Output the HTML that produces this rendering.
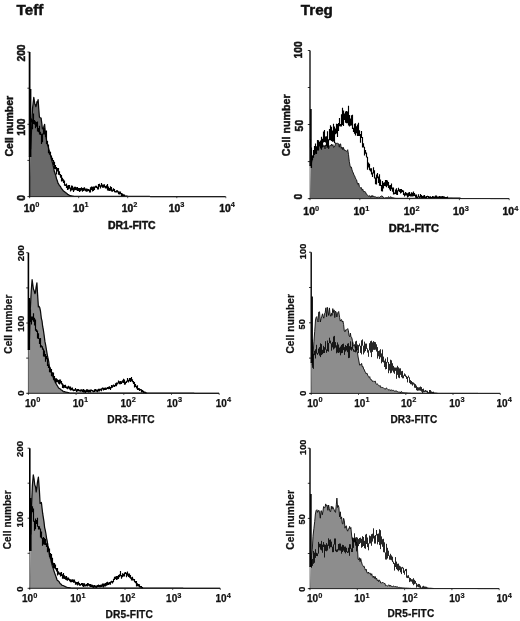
<!DOCTYPE html>
<html lang="en">
<head>
<meta charset="utf-8">
<title>Teff / Treg DR expression histograms</title>
<style>
html,body{margin:0;padding:0;background:#fff;}
body{width:520px;height:621px;overflow:hidden;}
svg{display:block;filter:blur(0.45px);}
</style>
</head>
<body>
<svg width="520" height="621" viewBox="0 0 520 621" font-family='"Liberation Sans", Arial, Helvetica, sans-serif' font-weight="bold" fill="#111" stroke="#111" stroke-width="0.45">
<rect width="520" height="621" fill="#fff" stroke="none"/>
<text x="16.60" y="14.60" font-size="15.2" text-anchor="start">Teff</text>
<text x="300.80" y="14.60" font-size="15.2" text-anchor="start">Treg</text>
<path d="M29.6 196.6 L30.6 149.2 L31.5 130.6 L32.5 108.9 L33.1 103.4 L33.8 97.3 L34.8 103.9 L35.3 104.8 L35.9 106.7 L36.5 104.5 L37.0 101.7 L37.5 102.3 L38.1 99.6 L38.8 109.2 L39.4 117.0 L40.2 117.7 L41.1 118.1 L41.8 123.3 L42.4 128.9 L43.0 128.2 L43.5 127.3 L44.0 126.2 L44.6 124.4 L45.4 133.4 L46.2 138.4 L46.9 141.6 L47.5 144.5 L48.2 146.7 L48.8 149.1 L49.5 151.5 L50.2 153.5 L50.9 157.2 L51.6 159.8 L52.2 161.8 L52.9 164.6 L53.6 167.5 L54.3 171.3 L55.0 173.2 L55.8 175.6 L56.5 178.6 L57.3 180.8 L58.0 183.1 L58.7 184.2 L59.4 185.4 L60.1 186.1 L60.8 187.2 L61.4 188.5 L62.1 189.2 L62.8 190.1 L63.5 191.2 L64.2 191.3 L64.9 192.1 L65.5 192.6 L66.2 192.9 L66.9 193.4 L67.6 194.4 L68.2 194.6 L68.9 194.9 L69.6 195.7 L70.3 195.7 L71.1 195.8 L71.8 195.9 L72.5 196.1 L73.3 196.2 L74.0 196.3 L74.7 196.3 L75.4 196.3 L76.1 196.3 L76.8 196.3 L77.5 196.3 L78.2 196.3 L78.9 196.3 L79.6 196.3 L80.3 196.3 L81.0 196.3 L81.7 196.3 L82.4 196.3 L83.1 196.3 L83.8 196.3 L84.5 196.3 L85.2 196.3 L85.9 196.3 L86.6 196.3 L87.3 196.3 L88.0 196.3 L88.7 196.3 L89.4 196.3 L90.1 196.3 L90.8 196.3 L91.5 196.3 L92.2 196.3 L92.9 196.3 L93.6 196.3 L94.3 196.3 L95.0 196.3 L95.7 196.3 L96.4 196.3 L97.1 196.3 L97.8 196.3 L98.5 196.3 L99.2 196.4 L99.9 196.4 L100.6 196.4 L101.3 196.4 L102.0 196.4 L102.7 196.4 L103.4 196.4 L104.1 196.4 L104.8 196.4 L105.5 196.4 L106.2 196.4 L106.9 196.4 L107.6 196.4 L108.3 196.4 L109.0 196.4 L109.7 196.4 L110.4 196.4 L111.1 196.4 L111.8 196.4 L112.4 196.4 L113.1 196.4 L113.8 196.4 L114.5 196.4 L115.2 196.4 L115.9 196.4 L116.6 196.4 L117.3 196.4 L118.0 196.4 L118.7 196.4 L119.4 196.4 L120.1 196.4 L120.8 196.4 L121.5 196.4 L122.2 196.4 L122.9 196.4 L123.6 196.4 L124.3 196.4 L125.0 196.4 L125.7 196.4 L126.4 196.4 L127.1 196.4 L127.8 196.4 L128.5 196.4 L129.2 196.4 L129.9 196.4 L130.6 196.4 L131.3 196.4 L132.0 196.4 L132.7 196.4 L133.4 196.4 L134.1 196.4 L134.8 196.4 L135.5 196.4 L136.2 196.4 L136.9 196.4 L137.6 196.4 L138.3 196.4 L139.0 196.4 L139.7 196.4 L140.4 196.4 L141.1 196.4 L141.8 196.4 L142.5 196.4 L143.2 196.4 L143.9 196.4 L144.6 196.4 L145.3 196.4 L146.0 196.4 L146.7 196.4 L147.4 196.4 L148.1 196.4 L148.8 196.4 L149.5 196.4 L150.2 196.5 L150.9 196.5 L151.6 196.5 L152.3 196.5 L153.0 196.5 L153.7 196.5 L154.4 196.5 L155.1 196.5 L155.8 196.5 L156.5 196.5 L157.2 196.5 L157.9 196.5 L158.6 196.5 L159.3 196.5 L160.0 196.5 L160.7 196.5 L161.4 196.5 L162.1 196.5 L162.8 196.5 L163.5 196.5 L164.2 196.5 L164.9 196.5 L165.6 196.5 L166.3 196.5 L167.0 196.5 L167.7 196.5 L168.4 196.5 L169.1 196.5 L169.8 196.5 L170.5 196.5 L171.2 196.5 L171.9 196.5 L172.6 196.5 L173.3 196.5 L174.0 196.5 L174.7 196.5 L175.4 196.5 L176.1 196.5 L176.8 196.5 L177.5 196.5 L178.2 196.5 L178.9 196.5 L179.6 196.5 L180.3 196.5 L181.0 196.5 L181.7 196.5 L182.4 196.5 L183.1 196.5 L183.8 196.5 L184.5 196.5 L185.2 196.5 L185.9 196.5 L186.6 196.5 L187.2 196.5 L187.9 196.5 L188.6 196.5 L189.3 196.5 L190.0 196.5 L190.7 196.5 L191.4 196.5 L192.1 196.5 L192.8 196.5 L193.5 196.5 L194.2 196.5 L194.9 196.5 L195.6 196.5 L196.3 196.5 L197.0 196.5 L197.7 196.5 L198.4 196.5 L199.1 196.5 L199.8 196.6 L200.5 196.6 L201.2 196.6 L201.9 196.6 L202.6 196.6 L203.3 196.6 L204.0 196.6 L204.7 196.6 L205.4 196.6 L206.1 196.6 L206.8 196.6 L207.5 196.6 L208.2 196.6 L208.9 196.6 L209.6 196.6 L210.3 196.6 L211.0 196.6 L211.7 196.6 L212.4 196.6 L213.1 196.6 L213.8 196.6 L214.5 196.6 L215.2 196.6 L215.9 196.6 L216.6 196.6 L217.3 196.6 L218.0 196.6 L218.7 196.6 L219.4 196.6 L220.1 196.6 L220.8 196.6 L221.5 196.6 L222.2 196.6 L222.9 196.6 L223.6 196.6 L224.3 196.6 L225.0 196.6 Z" fill="#6a6a6a" stroke="none"/>
<path d="M30.6 149.2 L31.5 130.6 L32.5 108.9 L33.1 103.4 L33.8 97.3 L34.8 103.9 L35.3 104.8 L35.9 106.7 L36.5 104.5 L37.0 101.7 L37.5 102.3 L38.1 99.6 L38.8 109.2 L39.4 117.0 L40.2 117.7 L41.1 118.1 L41.8 123.3 L42.4 128.9 L43.0 128.2 L43.5 127.3 L44.0 126.2 L44.6 124.4 L45.4 133.4 L46.2 138.4 L46.9 141.6 L47.5 144.5 L48.2 146.7 L48.8 149.1 L49.5 151.5 L50.2 153.5 L50.9 157.2 L51.6 159.8 L52.2 161.8 L52.9 164.6 L53.6 167.5 L54.3 171.3 L55.0 173.2 L55.8 175.6 L56.5 178.6 L57.3 180.8 L58.0 183.1 L58.7 184.2 L59.4 185.4 L60.1 186.1 L60.8 187.2 L61.4 188.5 L62.1 189.2 L62.8 190.1 L63.5 191.2 L64.2 191.3 L64.9 192.1 L65.5 192.6 L66.2 192.9 L66.9 193.4 L67.6 194.4 L68.2 194.6 L68.9 194.9 L69.6 195.7 L70.3 195.7 L71.1 195.8 L71.8 195.9 L72.5 196.1 L73.3 196.2 L74.0 196.3 L74.7 196.3 L75.4 196.3 L76.1 196.3 L76.8 196.3 L77.5 196.3 L78.2 196.3 L78.9 196.3 L79.6 196.3 L80.3 196.3 L81.0 196.3 L81.7 196.3 L82.4 196.3 L83.1 196.3 L83.8 196.3 L84.5 196.3 L85.2 196.3 L85.9 196.3 L86.6 196.3 L87.3 196.3 L88.0 196.3 L88.7 196.3 L89.4 196.3 L90.1 196.3 L90.8 196.3 L91.5 196.3 L92.2 196.3 L92.9 196.3 L93.6 196.3 L94.3 196.3 L95.0 196.3 L95.7 196.3 L96.4 196.3 L97.1 196.3 L97.8 196.3 L98.5 196.3 L99.2 196.4 L99.9 196.4 L100.6 196.4 L101.3 196.4 L102.0 196.4 L102.7 196.4 L103.4 196.4 L104.1 196.4 L104.8 196.4 L105.5 196.4 L106.2 196.4 L106.9 196.4 L107.6 196.4 L108.3 196.4 L109.0 196.4 L109.7 196.4 L110.4 196.4 L111.1 196.4 L111.8 196.4 L112.4 196.4 L113.1 196.4 L113.8 196.4 L114.5 196.4 L115.2 196.4 L115.9 196.4 L116.6 196.4 L117.3 196.4 L118.0 196.4 L118.7 196.4 L119.4 196.4 L120.1 196.4 L120.8 196.4 L121.5 196.4 L122.2 196.4 L122.9 196.4 L123.6 196.4 L124.3 196.4 L125.0 196.4 L125.7 196.4 L126.4 196.4 L127.1 196.4 L127.8 196.4 L128.5 196.4 L129.2 196.4 L129.9 196.4 L130.6 196.4 L131.3 196.4 L132.0 196.4 L132.7 196.4 L133.4 196.4 L134.1 196.4 L134.8 196.4 L135.5 196.4 L136.2 196.4 L136.9 196.4 L137.6 196.4 L138.3 196.4 L139.0 196.4 L139.7 196.4 L140.4 196.4 L141.1 196.4 L141.8 196.4 L142.5 196.4 L143.2 196.4 L143.9 196.4 L144.6 196.4 L145.3 196.4 L146.0 196.4 L146.7 196.4 L147.4 196.4 L148.1 196.4 L148.8 196.4 L149.5 196.4 L150.2 196.5 L150.9 196.5 L151.6 196.5 L152.3 196.5 L153.0 196.5 L153.7 196.5 L154.4 196.5 L155.1 196.5 L155.8 196.5 L156.5 196.5 L157.2 196.5 L157.9 196.5 L158.6 196.5 L159.3 196.5 L160.0 196.5 L160.7 196.5 L161.4 196.5 L162.1 196.5 L162.8 196.5 L163.5 196.5 L164.2 196.5 L164.9 196.5 L165.6 196.5 L166.3 196.5 L167.0 196.5 L167.7 196.5 L168.4 196.5 L169.1 196.5 L169.8 196.5 L170.5 196.5 L171.2 196.5 L171.9 196.5 L172.6 196.5 L173.3 196.5 L174.0 196.5 L174.7 196.5 L175.4 196.5 L176.1 196.5 L176.8 196.5 L177.5 196.5 L178.2 196.5 L178.9 196.5 L179.6 196.5 L180.3 196.5 L181.0 196.5 L181.7 196.5 L182.4 196.5 L183.1 196.5 L183.8 196.5 L184.5 196.5 L185.2 196.5 L185.9 196.5 L186.6 196.5 L187.2 196.5 L187.9 196.5 L188.6 196.5 L189.3 196.5 L190.0 196.5 L190.7 196.5 L191.4 196.5 L192.1 196.5 L192.8 196.5 L193.5 196.5 L194.2 196.5 L194.9 196.5 L195.6 196.5 L196.3 196.5 L197.0 196.5 L197.7 196.5 L198.4 196.5 L199.1 196.5 L199.8 196.6 L200.5 196.6 L201.2 196.6 L201.9 196.6 L202.6 196.6 L203.3 196.6 L204.0 196.6 L204.7 196.6 L205.4 196.6 L206.1 196.6 L206.8 196.6 L207.5 196.6 L208.2 196.6 L208.9 196.6 L209.6 196.6 L210.3 196.6 L211.0 196.6 L211.7 196.6 L212.4 196.6 L213.1 196.6 L213.8 196.6 L214.5 196.6 L215.2 196.6 L215.9 196.6 L216.6 196.6 L217.3 196.6 L218.0 196.6 L218.7 196.6 L219.4 196.6 L220.1 196.6 L220.8 196.6 L221.5 196.6 L222.2 196.6 L222.9 196.6 L223.6 196.6 L224.3 196.6 L225.0 196.6" fill="none" stroke="#0a0a0a" stroke-width="1.25" stroke-linejoin="round"/>
<path d="M30.5 114.2V119.5M31.5 118.5V122.6M32.5 119.6V129.3M33.5 113.5V124.0M34.5 120.1V124.6M35.5 121.2V128.2M36.5 122.0V126.7M37.5 121.5V131.4M38.5 128.0V132.3M39.5 125.7V134.6M40.5 131.8V135.0M41.5 133.7V143.9M42.5 133.5V142.2M43.5 128.0V134.5M44.5 127.7V134.6M45.5 130.8V136.9M46.5 130.6V144.0M47.5 141.1V145.5M48.5 144.4V153.3M49.5 152.1V154.8M50.5 151.7V156.6M51.5 155.5V159.8M52.5 157.8V161.0M53.5 159.9V165.2M54.5 161.7V169.0M55.5 164.9V169.3M56.5 167.1V174.5M57.5 167.9V171.4M58.5 168.1V174.8M59.5 171.3V175.2M60.5 174.0V177.7M61.5 174.9V181.4M62.5 177.8V181.2M63.5 179.3V183.0M64.5 180.6V185.8M65.5 184.3V186.0M66.5 183.4V188.0M67.5 185.6V190.1M68.5 185.0V189.4M69.5 185.0V188.8M70.5 187.5V191.5M71.5 185.6V190.6M72.5 185.8V190.2M73.5 187.5V192.1M74.5 186.7V190.4M75.5 186.8V189.9M76.5 187.3V190.3M77.5 187.1V191.0M78.5 187.9V191.0M79.5 188.0V192.0M80.5 187.9V191.2M81.5 187.3V190.5M82.5 188.1V191.7M83.5 187.7V191.0M84.5 187.2V190.5M85.5 188.5V191.3M86.5 188.5V191.7M87.5 188.8V191.6M88.5 189.1V191.0M89.5 189.4V192.5M90.5 187.3V192.4M91.5 186.5V190.1M92.5 186.7V191.6M93.5 186.5V191.1M94.5 186.4V190.0M95.5 185.7V187.8M96.5 185.7V188.1M97.5 186.8V189.6M98.5 184.1V189.6M99.5 183.8V186.8M100.5 185.3V188.6M101.5 183.1V186.8M102.5 184.6V187.8M103.5 184.5V187.8M104.5 184.2V187.4M105.5 186.1V188.6M106.5 185.2V188.5M107.5 184.1V190.4M108.5 186.5V190.7M109.5 187.9V191.1M110.5 186.2V190.7M111.5 186.9V191.4M112.5 189.6V191.7M113.5 188.3V190.9M114.5 188.9V192.3M115.5 190.9V192.5M116.5 190.3V192.6M117.5 190.3V192.6M118.5 191.3V194.2M119.5 191.6V194.4M120.5 191.5V194.3M121.5 193.0V195.9M122.5 193.5V196.2M123.5 194.2V196.4M124.5 194.5V196.8M125.5 195.4V197.0M126.5 195.6V197.0M127.5 195.8V197.0" fill="none" stroke="#000" stroke-width="1.15"/>
<line x1="29.6" y1="156.5" x2="29.6" y2="197.1" stroke="#1a1a1a" stroke-width="1.50"/>
<line x1="29.6" y1="52.0" x2="29.6" y2="157.0" stroke="#000" stroke-width="1.80"/>
<line x1="30.5" y1="89.0" x2="30.5" y2="157.0" stroke="#000" stroke-width="1.80"/>
<line x1="28.8" y1="196.6" x2="225.8" y2="196.6" stroke="#222" stroke-width="1"/>
<line x1="27.4" y1="196.6" x2="29.6" y2="196.6" stroke="#000" stroke-width="0.8"/>
<line x1="27.4" y1="160.4" x2="29.6" y2="160.4" stroke="#000" stroke-width="0.8"/>
<line x1="27.4" y1="124.3" x2="29.6" y2="124.3" stroke="#000" stroke-width="0.8"/>
<line x1="27.4" y1="88.2" x2="29.6" y2="88.2" stroke="#000" stroke-width="0.8"/>
<line x1="27.4" y1="52.0" x2="29.6" y2="52.0" stroke="#000" stroke-width="0.8"/>
<line x1="29.6" y1="196.6" x2="29.6" y2="198.2" stroke="#222" stroke-width="0.8"/>
<line x1="78.7" y1="196.6" x2="78.7" y2="198.2" stroke="#222" stroke-width="0.8"/>
<line x1="127.7" y1="196.6" x2="127.7" y2="198.2" stroke="#222" stroke-width="0.8"/>
<line x1="176.8" y1="196.6" x2="176.8" y2="198.2" stroke="#222" stroke-width="0.8"/>
<line x1="225.8" y1="196.6" x2="225.8" y2="198.2" stroke="#222" stroke-width="0.8"/>
<g stroke-width="0.45">
<text x="23.78" y="211.60" font-size="10.3">10<tspan dy="-4.5" dx="0.1" font-size="7.4" stroke-width="0.15">0</tspan></text>
<text x="72.98" y="211.60" font-size="10.3">10<tspan dy="-4.5" dx="0.1" font-size="7.4" stroke-width="0.15">1</tspan></text>
<text x="121.78" y="211.60" font-size="10.3">10<tspan dy="-4.5" dx="0.1" font-size="7.4" stroke-width="0.15">2</tspan></text>
<text x="168.68" y="211.60" font-size="10.3">10<tspan dy="-4.5" dx="0.1" font-size="7.4" stroke-width="0.15">3</tspan></text>
<text x="219.18" y="211.60" font-size="10.3">10<tspan dy="-4.5" dx="0.1" font-size="7.4" stroke-width="0.15">4</tspan></text>
<text x="131.80" y="228.50" font-size="10.5" text-anchor="middle">DR1-FITC</text>
<text x="24.70" y="198.00" font-size="10.3" text-anchor="middle" transform="rotate(-90 24.70 198.00)">0</text>
<text x="24.60" y="127.10" font-size="10.3" text-anchor="middle" transform="rotate(-90 24.60 127.10)">100</text>
<text x="24.80" y="53.00" font-size="10.3" text-anchor="middle" transform="rotate(-90 24.80 53.00)">200</text>
<text x="13.30" y="126.20" font-size="10.5" text-anchor="middle" transform="rotate(-90 13.30 126.20)">Cell number</text>
</g>
<path d="M28.4 393.3 L29.4 339.6 L30.3 309.3 L31.2 291.2 L32.1 279.7 L32.8 284.6 L33.4 289.1 L34.1 290.5 L34.9 293.6 L35.5 292.4 L36.0 287.8 L36.9 282.9 L37.6 294.6 L38.4 306.9 L39.0 306.3 L39.7 307.5 L40.5 311.2 L41.4 318.7 L42.0 320.8 L42.7 326.7 L43.3 329.5 L44.1 335.2 L44.9 341.4 L45.7 345.4 L46.4 349.5 L47.2 354.3 L47.9 357.8 L48.7 361.4 L49.4 366.6 L50.1 367.6 L50.7 369.5 L51.4 371.8 L52.0 374.1 L52.7 376.2 L53.3 377.6 L54.0 379.9 L54.7 380.7 L55.3 382.2 L56.0 383.5 L56.6 384.6 L57.3 385.8 L57.9 386.8 L58.6 388.0 L59.3 388.4 L59.9 388.8 L60.6 389.1 L61.2 390.0 L61.9 390.3 L62.5 390.7 L63.2 391.5 L63.9 391.9 L64.6 391.6 L65.2 392.0 L65.9 392.0 L66.6 392.3 L67.3 392.4 L68.0 392.6 L68.6 392.7 L69.3 392.9 L70.0 393.0 L70.7 393.0 L71.4 393.0 L72.1 393.0 L72.8 393.0 L73.5 393.0 L74.2 393.0 L74.9 393.0 L75.6 393.0 L76.3 393.0 L77.0 393.0 L77.7 393.0 L78.4 393.0 L79.1 393.0 L79.8 393.0 L80.5 393.0 L81.2 393.0 L81.9 393.0 L82.6 393.0 L83.3 393.0 L84.0 393.0 L84.7 393.0 L85.4 393.0 L86.1 393.0 L86.8 393.0 L87.5 393.0 L88.2 393.0 L88.9 393.0 L89.6 393.0 L90.3 393.0 L91.0 393.0 L91.7 393.0 L92.4 393.0 L93.1 393.0 L93.8 393.0 L94.5 393.0 L95.2 393.1 L95.9 393.1 L96.6 393.1 L97.3 393.1 L98.0 393.1 L98.7 393.1 L99.4 393.1 L100.1 393.1 L100.8 393.1 L101.5 393.1 L102.2 393.1 L102.9 393.1 L103.6 393.1 L104.3 393.1 L105.0 393.1 L105.7 393.1 L106.4 393.1 L107.1 393.1 L107.8 393.1 L108.5 393.1 L109.2 393.1 L109.9 393.1 L110.6 393.1 L111.3 393.1 L112.0 393.1 L112.7 393.1 L113.4 393.1 L114.1 393.1 L114.8 393.1 L115.5 393.1 L116.2 393.1 L116.9 393.1 L117.6 393.1 L118.3 393.1 L119.0 393.1 L119.7 393.1 L120.4 393.1 L121.1 393.1 L121.8 393.1 L122.5 393.1 L123.2 393.1 L123.9 393.1 L124.6 393.1 L125.3 393.1 L126.0 393.1 L126.7 393.1 L127.4 393.1 L128.1 393.1 L128.8 393.1 L129.5 393.1 L130.2 393.1 L130.9 393.1 L131.6 393.1 L132.3 393.1 L133.0 393.1 L133.7 393.1 L134.4 393.1 L135.1 393.1 L135.8 393.1 L136.5 393.1 L137.2 393.1 L137.9 393.1 L138.6 393.1 L139.3 393.1 L140.0 393.1 L140.7 393.1 L141.4 393.1 L142.1 393.1 L142.8 393.1 L143.5 393.1 L144.2 393.1 L144.8 393.2 L145.5 393.2 L146.2 393.2 L146.9 393.2 L147.6 393.2 L148.3 393.2 L149.0 393.2 L149.7 393.2 L150.4 393.2 L151.1 393.2 L151.8 393.2 L152.5 393.2 L153.2 393.2 L153.9 393.2 L154.6 393.2 L155.3 393.2 L156.0 393.2 L156.7 393.2 L157.4 393.2 L158.1 393.2 L158.8 393.2 L159.5 393.2 L160.2 393.2 L160.9 393.2 L161.6 393.2 L162.3 393.2 L163.0 393.2 L163.7 393.2 L164.4 393.2 L165.1 393.2 L165.8 393.2 L166.5 393.2 L167.2 393.2 L167.9 393.2 L168.6 393.2 L169.3 393.2 L170.0 393.2 L170.7 393.2 L171.4 393.2 L172.1 393.2 L172.8 393.2 L173.5 393.2 L174.2 393.2 L174.9 393.2 L175.6 393.2 L176.3 393.2 L177.0 393.2 L177.7 393.2 L178.4 393.2 L179.1 393.2 L179.8 393.2 L180.5 393.2 L181.2 393.2 L181.9 393.2 L182.6 393.2 L183.3 393.2 L184.0 393.2 L184.7 393.2 L185.4 393.2 L186.1 393.2 L186.8 393.2 L187.5 393.2 L188.2 393.2 L188.9 393.2 L189.6 393.2 L190.3 393.2 L191.0 393.2 L191.7 393.2 L192.4 393.2 L193.1 393.2 L193.8 393.2 L194.5 393.3 L195.2 393.3 L195.9 393.3 L196.6 393.3 L197.3 393.3 L198.0 393.3 L198.7 393.3 L199.4 393.3 L200.1 393.3 L200.8 393.3 L201.5 393.3 L202.2 393.3 L202.9 393.3 L203.6 393.3 L204.3 393.3 L205.0 393.3 L205.7 393.3 L206.4 393.3 L207.1 393.3 L207.8 393.3 L208.5 393.3 L209.2 393.3 L209.9 393.3 L210.6 393.3 L211.3 393.3 L212.0 393.3 L212.7 393.3 L213.4 393.3 L214.1 393.3 L214.8 393.3 L215.5 393.3 L216.2 393.3 L216.9 393.3 L217.6 393.3 L218.3 393.3 L219.0 393.3 Z" fill="#8d8d8d" stroke="none"/>
<path d="M29.4 339.6 L30.3 309.3 L31.2 291.2 L32.1 279.7 L32.8 284.6 L33.4 289.1 L34.1 290.5 L34.9 293.6 L35.5 292.4 L36.0 287.8 L36.9 282.9 L37.6 294.6 L38.4 306.9 L39.0 306.3 L39.7 307.5 L40.5 311.2 L41.4 318.7 L42.0 320.8 L42.7 326.7 L43.3 329.5 L44.1 335.2 L44.9 341.4 L45.7 345.4 L46.4 349.5 L47.2 354.3 L47.9 357.8 L48.7 361.4 L49.4 366.6 L50.1 367.6 L50.7 369.5 L51.4 371.8 L52.0 374.1 L52.7 376.2 L53.3 377.6 L54.0 379.9 L54.7 380.7 L55.3 382.2 L56.0 383.5 L56.6 384.6 L57.3 385.8 L57.9 386.8 L58.6 388.0 L59.3 388.4 L59.9 388.8 L60.6 389.1 L61.2 390.0 L61.9 390.3 L62.5 390.7 L63.2 391.5 L63.9 391.9 L64.6 391.6 L65.2 392.0 L65.9 392.0 L66.6 392.3 L67.3 392.4 L68.0 392.6 L68.6 392.7 L69.3 392.9 L70.0 393.0 L70.7 393.0 L71.4 393.0 L72.1 393.0 L72.8 393.0 L73.5 393.0 L74.2 393.0 L74.9 393.0 L75.6 393.0 L76.3 393.0 L77.0 393.0 L77.7 393.0 L78.4 393.0 L79.1 393.0 L79.8 393.0 L80.5 393.0 L81.2 393.0 L81.9 393.0 L82.6 393.0 L83.3 393.0 L84.0 393.0 L84.7 393.0 L85.4 393.0 L86.1 393.0 L86.8 393.0 L87.5 393.0 L88.2 393.0 L88.9 393.0 L89.6 393.0 L90.3 393.0 L91.0 393.0 L91.7 393.0 L92.4 393.0 L93.1 393.0 L93.8 393.0 L94.5 393.0 L95.2 393.1 L95.9 393.1 L96.6 393.1 L97.3 393.1 L98.0 393.1 L98.7 393.1 L99.4 393.1 L100.1 393.1 L100.8 393.1 L101.5 393.1 L102.2 393.1 L102.9 393.1 L103.6 393.1 L104.3 393.1 L105.0 393.1 L105.7 393.1 L106.4 393.1 L107.1 393.1 L107.8 393.1 L108.5 393.1 L109.2 393.1 L109.9 393.1 L110.6 393.1 L111.3 393.1 L112.0 393.1 L112.7 393.1 L113.4 393.1 L114.1 393.1 L114.8 393.1 L115.5 393.1 L116.2 393.1 L116.9 393.1 L117.6 393.1 L118.3 393.1 L119.0 393.1 L119.7 393.1 L120.4 393.1 L121.1 393.1 L121.8 393.1 L122.5 393.1 L123.2 393.1 L123.9 393.1 L124.6 393.1 L125.3 393.1 L126.0 393.1 L126.7 393.1 L127.4 393.1 L128.1 393.1 L128.8 393.1 L129.5 393.1 L130.2 393.1 L130.9 393.1 L131.6 393.1 L132.3 393.1 L133.0 393.1 L133.7 393.1 L134.4 393.1 L135.1 393.1 L135.8 393.1 L136.5 393.1 L137.2 393.1 L137.9 393.1 L138.6 393.1 L139.3 393.1 L140.0 393.1 L140.7 393.1 L141.4 393.1 L142.1 393.1 L142.8 393.1 L143.5 393.1 L144.2 393.1 L144.8 393.2 L145.5 393.2 L146.2 393.2 L146.9 393.2 L147.6 393.2 L148.3 393.2 L149.0 393.2 L149.7 393.2 L150.4 393.2 L151.1 393.2 L151.8 393.2 L152.5 393.2 L153.2 393.2 L153.9 393.2 L154.6 393.2 L155.3 393.2 L156.0 393.2 L156.7 393.2 L157.4 393.2 L158.1 393.2 L158.8 393.2 L159.5 393.2 L160.2 393.2 L160.9 393.2 L161.6 393.2 L162.3 393.2 L163.0 393.2 L163.7 393.2 L164.4 393.2 L165.1 393.2 L165.8 393.2 L166.5 393.2 L167.2 393.2 L167.9 393.2 L168.6 393.2 L169.3 393.2 L170.0 393.2 L170.7 393.2 L171.4 393.2 L172.1 393.2 L172.8 393.2 L173.5 393.2 L174.2 393.2 L174.9 393.2 L175.6 393.2 L176.3 393.2 L177.0 393.2 L177.7 393.2 L178.4 393.2 L179.1 393.2 L179.8 393.2 L180.5 393.2 L181.2 393.2 L181.9 393.2 L182.6 393.2 L183.3 393.2 L184.0 393.2 L184.7 393.2 L185.4 393.2 L186.1 393.2 L186.8 393.2 L187.5 393.2 L188.2 393.2 L188.9 393.2 L189.6 393.2 L190.3 393.2 L191.0 393.2 L191.7 393.2 L192.4 393.2 L193.1 393.2 L193.8 393.2 L194.5 393.3 L195.2 393.3 L195.9 393.3 L196.6 393.3 L197.3 393.3 L198.0 393.3 L198.7 393.3 L199.4 393.3 L200.1 393.3 L200.8 393.3 L201.5 393.3 L202.2 393.3 L202.9 393.3 L203.6 393.3 L204.3 393.3 L205.0 393.3 L205.7 393.3 L206.4 393.3 L207.1 393.3 L207.8 393.3 L208.5 393.3 L209.2 393.3 L209.9 393.3 L210.6 393.3 L211.3 393.3 L212.0 393.3 L212.7 393.3 L213.4 393.3 L214.1 393.3 L214.8 393.3 L215.5 393.3 L216.2 393.3 L216.9 393.3 L217.6 393.3 L218.3 393.3 L219.0 393.3" fill="none" stroke="#0a0a0a" stroke-width="1.25" stroke-linejoin="round"/>
<path d="M29.5 311.9V316.0M30.5 309.5V322.0M31.5 316.6V324.6M32.5 316.5V320.3M33.5 313.2V321.7M34.5 317.8V325.4M35.5 319.4V330.7M36.5 329.3V332.1M37.5 330.5V338.6M38.5 333.3V339.1M39.5 338.3V344.1M40.5 338.0V347.5M41.5 345.3V347.4M42.5 346.2V349.7M43.5 348.4V356.5M44.5 350.4V356.8M45.5 354.1V361.7M46.5 356.1V359.3M47.5 358.1V366.1M48.5 364.2V368.1M49.5 367.1V372.2M50.5 369.2V372.6M51.5 369.0V376.2M52.5 372.2V375.2M53.5 372.5V379.7M54.5 376.1V380.0M55.5 378.3V383.3M56.5 378.3V382.5M57.5 379.3V382.3M58.5 379.9V383.8M59.5 379.4V384.6M60.5 379.6V383.6M61.5 381.0V384.4M62.5 383.2V388.0M63.5 384.6V388.3M64.5 385.0V387.7M65.5 384.8V387.9M66.5 386.4V388.6M67.5 386.4V389.3M68.5 385.7V388.6M69.5 386.6V389.4M70.5 386.4V390.6M71.5 387.7V390.3M72.5 387.6V390.5M73.5 389.3V391.2M74.5 389.2V391.1M75.5 387.9V390.8M76.5 389.3V391.9M77.5 389.1V391.6M78.5 389.0V391.3M79.5 389.7V391.6M80.5 389.5V391.7M81.5 389.2V391.6M82.5 389.4V391.9M83.5 389.0V392.5M84.5 389.7V392.4M85.5 390.2V392.9M86.5 389.3V391.9M87.5 389.3V392.0M88.5 389.7V392.4M89.5 389.8V392.2M90.5 389.6V392.4M91.5 389.4V391.2M92.5 390.0V391.8M93.5 390.4V392.3M94.5 389.3V392.1M95.5 388.9V391.4M96.5 389.4V391.8M97.5 389.6V392.3M98.5 388.8V391.4M99.5 388.8V391.5M100.5 388.7V390.5M101.5 388.2V391.3M102.5 387.6V389.4M103.5 387.8V390.5M104.5 387.8V389.9M105.5 387.5V390.0M106.5 387.7V389.8M107.5 387.1V389.1M108.5 386.7V389.2M109.5 386.3V389.1M110.5 387.1V390.1M111.5 384.9V388.3M112.5 385.2V387.7M113.5 384.4V386.8M114.5 385.0V387.0M115.5 383.2V386.2M116.5 382.5V386.3M117.5 382.4V384.6M118.5 380.5V383.6M119.5 381.3V384.2M120.5 381.1V384.2M121.5 381.2V384.0M122.5 380.3V382.7M123.5 378.8V383.0M124.5 379.4V384.7M125.5 381.7V384.4M126.5 380.7V382.9M127.5 378.1V381.8M128.5 379.7V382.4M129.5 378.1V381.2M130.5 378.0V381.9M131.5 376.9V381.3M132.5 379.2V382.2M133.5 381.1V384.1M134.5 382.0V387.6M135.5 384.1V387.0M136.5 385.7V388.5M137.5 385.3V389.9M138.5 387.9V390.1M139.5 388.3V390.9M140.5 388.9V390.5M141.5 389.2V392.5M142.5 390.0V392.2M143.5 390.8V392.9M144.5 391.5V393.0M145.5 391.7V393.7M146.5 392.4V393.7" fill="none" stroke="#000" stroke-width="1.15"/>
<line x1="28.4" y1="349.5" x2="28.4" y2="393.8" stroke="#555" stroke-width="1.00"/>
<line x1="28.4" y1="252.7" x2="28.4" y2="350.0" stroke="#000" stroke-width="1.60"/>
<line x1="29.2" y1="298.0" x2="29.2" y2="350.0" stroke="#000" stroke-width="1.80"/>
<line x1="27.6" y1="393.3" x2="219.2" y2="393.3" stroke="#222" stroke-width="1"/>
<line x1="26.2" y1="393.3" x2="28.4" y2="393.3" stroke="#000" stroke-width="0.8"/>
<line x1="26.2" y1="358.1" x2="28.4" y2="358.1" stroke="#000" stroke-width="0.8"/>
<line x1="26.2" y1="323.0" x2="28.4" y2="323.0" stroke="#000" stroke-width="0.8"/>
<line x1="26.2" y1="287.9" x2="28.4" y2="287.9" stroke="#000" stroke-width="0.8"/>
<line x1="26.2" y1="252.7" x2="28.4" y2="252.7" stroke="#000" stroke-width="0.8"/>
<line x1="28.4" y1="393.3" x2="28.4" y2="394.9" stroke="#222" stroke-width="0.8"/>
<line x1="76.1" y1="393.3" x2="76.1" y2="394.9" stroke="#222" stroke-width="0.8"/>
<line x1="123.8" y1="393.3" x2="123.8" y2="394.9" stroke="#222" stroke-width="0.8"/>
<line x1="171.5" y1="393.3" x2="171.5" y2="394.9" stroke="#222" stroke-width="0.8"/>
<line x1="219.2" y1="393.3" x2="219.2" y2="394.9" stroke="#222" stroke-width="0.8"/>
<g stroke-width="0.25">
<text x="25.00" y="406.80" font-size="10.0">10<tspan dy="-4.5" dx="0.1" font-size="7.4" stroke-width="0.15">0</tspan></text>
<text x="72.70" y="406.80" font-size="10.0">10<tspan dy="-4.5" dx="0.1" font-size="7.4" stroke-width="0.15">1</tspan></text>
<text x="120.40" y="406.80" font-size="10.0">10<tspan dy="-4.5" dx="0.1" font-size="7.4" stroke-width="0.15">2</tspan></text>
<text x="166.80" y="406.80" font-size="10.0">10<tspan dy="-4.5" dx="0.1" font-size="7.4" stroke-width="0.15">3</tspan></text>
<text x="215.80" y="406.80" font-size="10.0">10<tspan dy="-4.5" dx="0.1" font-size="7.4" stroke-width="0.15">4</tspan></text>
<text x="131.06" y="422.50" font-size="10.2" text-anchor="middle" letter-spacing="0.12">DR3-FITC</text>
<text x="24.00" y="393.04" font-size="9.5" text-anchor="middle" transform="rotate(-90 24.00 393.04)" letter-spacing="0.12">0</text>
<text x="23.60" y="323.74" font-size="9.5" text-anchor="middle" transform="rotate(-90 23.60 323.74)" letter-spacing="0.12">100</text>
<text x="24.30" y="253.14" font-size="9.5" text-anchor="middle" transform="rotate(-90 24.30 253.14)" letter-spacing="0.12">200</text>
<text x="11.60" y="324.14" font-size="10.0" text-anchor="middle" transform="rotate(-90 11.60 324.14)" letter-spacing="0.12">Cell number</text>
</g>
<path d="M29.8 588.3 L30.8 534.4 L31.6 504.8 L32.4 485.3 L33.3 474.9 L34.0 478.5 L34.8 485.1 L35.5 486.8 L36.2 492.0 L36.8 488.1 L37.4 482.6 L38.4 477.1 L39.4 490.8 L40.1 503.4 L40.8 502.9 L41.4 502.5 L42.0 507.8 L42.7 513.7 L43.3 517.3 L44.0 521.9 L44.6 527.3 L45.2 529.8 L45.9 533.5 L46.6 538.3 L47.2 541.0 L47.9 545.7 L48.7 549.6 L49.4 554.9 L50.2 557.9 L50.9 559.9 L51.7 563.4 L52.4 566.2 L53.2 568.3 L54.0 571.1 L54.7 573.1 L55.5 575.4 L56.2 577.3 L57.0 579.8 L57.7 580.6 L58.3 580.8 L59.0 581.6 L59.7 582.8 L60.4 583.8 L61.0 584.1 L61.7 585.0 L62.4 585.4 L63.0 585.5 L63.7 585.8 L64.3 586.1 L65.0 586.4 L65.7 586.9 L66.3 587.0 L67.0 587.4 L67.7 587.5 L68.4 587.6 L69.1 587.7 L69.9 587.8 L70.6 587.9 L71.3 588.0 L72.0 588.1 L72.7 588.1 L73.4 588.1 L74.1 588.1 L74.8 588.1 L75.5 588.1 L76.2 588.1 L76.9 588.1 L77.6 588.1 L78.3 588.1 L79.0 588.1 L79.7 588.1 L80.4 588.1 L81.1 588.1 L81.8 588.1 L82.5 588.1 L83.2 588.1 L83.9 588.1 L84.6 588.1 L85.3 588.1 L86.0 588.1 L86.7 588.1 L87.4 588.1 L88.1 588.1 L88.8 588.1 L89.5 588.1 L90.2 588.1 L90.9 588.1 L91.6 588.1 L92.3 588.1 L93.0 588.1 L93.7 588.1 L94.4 588.1 L95.1 588.1 L95.8 588.1 L96.5 588.1 L97.3 588.1 L98.0 588.1 L98.7 588.1 L99.4 588.1 L100.1 588.1 L100.8 588.1 L101.5 588.1 L102.2 588.1 L102.9 588.1 L103.6 588.1 L104.3 588.1 L105.0 588.1 L105.7 588.1 L106.4 588.1 L107.1 588.1 L107.8 588.1 L108.5 588.1 L109.2 588.2 L109.9 588.2 L110.6 588.2 L111.3 588.2 L112.0 588.2 L112.7 588.2 L113.4 588.2 L114.1 588.2 L114.8 588.2 L115.5 588.2 L116.2 588.2 L116.9 588.2 L117.6 588.2 L118.3 588.2 L119.0 588.2 L119.7 588.2 L120.4 588.2 L121.1 588.2 L121.8 588.2 L122.5 588.2 L123.2 588.2 L123.9 588.2 L124.6 588.2 L125.3 588.2 L126.0 588.2 L126.7 588.2 L127.4 588.2 L128.1 588.2 L128.8 588.2 L129.5 588.2 L130.2 588.2 L130.9 588.2 L131.6 588.2 L132.3 588.2 L133.0 588.2 L133.7 588.2 L134.4 588.2 L135.1 588.2 L135.8 588.2 L136.5 588.2 L137.2 588.2 L137.9 588.2 L138.6 588.2 L139.3 588.2 L140.0 588.2 L140.7 588.2 L141.4 588.2 L142.1 588.2 L142.8 588.2 L143.5 588.2 L144.2 588.2 L144.9 588.2 L145.6 588.2 L146.4 588.2 L147.1 588.2 L147.8 588.2 L148.5 588.2 L149.2 588.2 L149.9 588.2 L150.6 588.2 L151.3 588.2 L152.0 588.2 L152.7 588.2 L153.4 588.2 L154.1 588.2 L154.8 588.2 L155.5 588.2 L156.2 588.2 L156.9 588.2 L157.6 588.2 L158.3 588.2 L159.0 588.2 L159.7 588.2 L160.4 588.2 L161.1 588.2 L161.8 588.2 L162.5 588.2 L163.2 588.2 L163.9 588.2 L164.6 588.2 L165.3 588.2 L166.0 588.2 L166.7 588.2 L167.4 588.2 L168.1 588.2 L168.8 588.2 L169.5 588.2 L170.2 588.2 L170.9 588.2 L171.6 588.2 L172.3 588.2 L173.0 588.2 L173.7 588.2 L174.4 588.2 L175.1 588.2 L175.8 588.2 L176.5 588.2 L177.2 588.2 L177.9 588.2 L178.6 588.2 L179.3 588.2 L180.0 588.2 L180.7 588.2 L181.4 588.2 L182.1 588.2 L182.8 588.2 L183.5 588.3 L184.2 588.3 L184.9 588.3 L185.6 588.3 L186.3 588.3 L187.0 588.3 L187.7 588.3 L188.4 588.3 L189.1 588.3 L189.8 588.3 L190.5 588.3 L191.2 588.3 L191.9 588.3 L192.6 588.3 L193.3 588.3 L194.0 588.3 L194.7 588.3 L195.5 588.3 L196.2 588.3 L196.9 588.3 L197.6 588.3 L198.3 588.3 L199.0 588.3 L199.7 588.3 L200.4 588.3 L201.1 588.3 L201.8 588.3 L202.5 588.3 L203.2 588.3 L203.9 588.3 L204.6 588.3 L205.3 588.3 L206.0 588.3 L206.7 588.3 L207.4 588.3 L208.1 588.3 L208.8 588.3 L209.5 588.3 L210.2 588.3 L210.9 588.3 L211.6 588.3 L212.3 588.3 L213.0 588.3 L213.7 588.3 L214.4 588.3 L215.1 588.3 L215.8 588.3 L216.5 588.3 L217.2 588.3 L217.9 588.3 L218.6 588.3 L219.3 588.3 L220.0 588.3 Z" fill="#8d8d8d" stroke="none"/>
<path d="M30.8 534.4 L31.6 504.8 L32.4 485.3 L33.3 474.9 L34.0 478.5 L34.8 485.1 L35.5 486.8 L36.2 492.0 L36.8 488.1 L37.4 482.6 L38.4 477.1 L39.4 490.8 L40.1 503.4 L40.8 502.9 L41.4 502.5 L42.0 507.8 L42.7 513.7 L43.3 517.3 L44.0 521.9 L44.6 527.3 L45.2 529.8 L45.9 533.5 L46.6 538.3 L47.2 541.0 L47.9 545.7 L48.7 549.6 L49.4 554.9 L50.2 557.9 L50.9 559.9 L51.7 563.4 L52.4 566.2 L53.2 568.3 L54.0 571.1 L54.7 573.1 L55.5 575.4 L56.2 577.3 L57.0 579.8 L57.7 580.6 L58.3 580.8 L59.0 581.6 L59.7 582.8 L60.4 583.8 L61.0 584.1 L61.7 585.0 L62.4 585.4 L63.0 585.5 L63.7 585.8 L64.3 586.1 L65.0 586.4 L65.7 586.9 L66.3 587.0 L67.0 587.4 L67.7 587.5 L68.4 587.6 L69.1 587.7 L69.9 587.8 L70.6 587.9 L71.3 588.0 L72.0 588.1 L72.7 588.1 L73.4 588.1 L74.1 588.1 L74.8 588.1 L75.5 588.1 L76.2 588.1 L76.9 588.1 L77.6 588.1 L78.3 588.1 L79.0 588.1 L79.7 588.1 L80.4 588.1 L81.1 588.1 L81.8 588.1 L82.5 588.1 L83.2 588.1 L83.9 588.1 L84.6 588.1 L85.3 588.1 L86.0 588.1 L86.7 588.1 L87.4 588.1 L88.1 588.1 L88.8 588.1 L89.5 588.1 L90.2 588.1 L90.9 588.1 L91.6 588.1 L92.3 588.1 L93.0 588.1 L93.7 588.1 L94.4 588.1 L95.1 588.1 L95.8 588.1 L96.5 588.1 L97.3 588.1 L98.0 588.1 L98.7 588.1 L99.4 588.1 L100.1 588.1 L100.8 588.1 L101.5 588.1 L102.2 588.1 L102.9 588.1 L103.6 588.1 L104.3 588.1 L105.0 588.1 L105.7 588.1 L106.4 588.1 L107.1 588.1 L107.8 588.1 L108.5 588.1 L109.2 588.2 L109.9 588.2 L110.6 588.2 L111.3 588.2 L112.0 588.2 L112.7 588.2 L113.4 588.2 L114.1 588.2 L114.8 588.2 L115.5 588.2 L116.2 588.2 L116.9 588.2 L117.6 588.2 L118.3 588.2 L119.0 588.2 L119.7 588.2 L120.4 588.2 L121.1 588.2 L121.8 588.2 L122.5 588.2 L123.2 588.2 L123.9 588.2 L124.6 588.2 L125.3 588.2 L126.0 588.2 L126.7 588.2 L127.4 588.2 L128.1 588.2 L128.8 588.2 L129.5 588.2 L130.2 588.2 L130.9 588.2 L131.6 588.2 L132.3 588.2 L133.0 588.2 L133.7 588.2 L134.4 588.2 L135.1 588.2 L135.8 588.2 L136.5 588.2 L137.2 588.2 L137.9 588.2 L138.6 588.2 L139.3 588.2 L140.0 588.2 L140.7 588.2 L141.4 588.2 L142.1 588.2 L142.8 588.2 L143.5 588.2 L144.2 588.2 L144.9 588.2 L145.6 588.2 L146.4 588.2 L147.1 588.2 L147.8 588.2 L148.5 588.2 L149.2 588.2 L149.9 588.2 L150.6 588.2 L151.3 588.2 L152.0 588.2 L152.7 588.2 L153.4 588.2 L154.1 588.2 L154.8 588.2 L155.5 588.2 L156.2 588.2 L156.9 588.2 L157.6 588.2 L158.3 588.2 L159.0 588.2 L159.7 588.2 L160.4 588.2 L161.1 588.2 L161.8 588.2 L162.5 588.2 L163.2 588.2 L163.9 588.2 L164.6 588.2 L165.3 588.2 L166.0 588.2 L166.7 588.2 L167.4 588.2 L168.1 588.2 L168.8 588.2 L169.5 588.2 L170.2 588.2 L170.9 588.2 L171.6 588.2 L172.3 588.2 L173.0 588.2 L173.7 588.2 L174.4 588.2 L175.1 588.2 L175.8 588.2 L176.5 588.2 L177.2 588.2 L177.9 588.2 L178.6 588.2 L179.3 588.2 L180.0 588.2 L180.7 588.2 L181.4 588.2 L182.1 588.2 L182.8 588.2 L183.5 588.3 L184.2 588.3 L184.9 588.3 L185.6 588.3 L186.3 588.3 L187.0 588.3 L187.7 588.3 L188.4 588.3 L189.1 588.3 L189.8 588.3 L190.5 588.3 L191.2 588.3 L191.9 588.3 L192.6 588.3 L193.3 588.3 L194.0 588.3 L194.7 588.3 L195.5 588.3 L196.2 588.3 L196.9 588.3 L197.6 588.3 L198.3 588.3 L199.0 588.3 L199.7 588.3 L200.4 588.3 L201.1 588.3 L201.8 588.3 L202.5 588.3 L203.2 588.3 L203.9 588.3 L204.6 588.3 L205.3 588.3 L206.0 588.3 L206.7 588.3 L207.4 588.3 L208.1 588.3 L208.8 588.3 L209.5 588.3 L210.2 588.3 L210.9 588.3 L211.6 588.3 L212.3 588.3 L213.0 588.3 L213.7 588.3 L214.4 588.3 L215.1 588.3 L215.8 588.3 L216.5 588.3 L217.2 588.3 L217.9 588.3 L218.6 588.3 L219.3 588.3 L220.0 588.3" fill="none" stroke="#0a0a0a" stroke-width="1.25" stroke-linejoin="round"/>
<path d="M30.5 506.3V509.3M31.5 508.4V514.0M32.5 506.2V512.2M33.5 508.4V521.7M34.5 520.7V530.8M35.5 518.6V529.3M36.5 520.0V524.0M37.5 517.8V526.7M38.5 525.9V529.6M39.5 526.3V529.5M40.5 528.6V537.6M41.5 531.5V538.4M42.5 537.7V545.7M43.5 537.1V544.4M44.5 538.1V544.8M45.5 538.9V544.9M46.5 543.2V547.0M47.5 542.9V552.2M48.5 546.8V551.4M49.5 548.5V557.1M50.5 553.0V559.1M51.5 553.9V562.7M52.5 557.7V565.2M53.5 562.7V568.0M54.5 562.9V568.6M55.5 564.6V569.5M56.5 568.1V571.5M57.5 568.0V575.5M58.5 571.2V574.6M59.5 572.4V574.7M60.5 572.4V576.4M61.5 572.1V576.0M62.5 574.2V578.8M63.5 572.9V578.7M64.5 575.3V578.9M65.5 576.2V579.8M66.5 576.0V580.2M67.5 577.5V580.7M68.5 577.5V579.9M69.5 578.7V581.3M70.5 579.2V582.2M71.5 579.5V582.2M72.5 579.2V582.0M73.5 579.6V582.8M74.5 579.5V582.7M75.5 581.6V584.7M76.5 582.1V584.6M77.5 582.0V585.6M78.5 581.4V584.7M79.5 583.1V585.7M80.5 583.9V585.7M81.5 583.0V585.1M82.5 583.1V586.2M83.5 583.2V587.0M84.5 583.3V586.4M85.5 584.5V586.6M86.5 584.0V586.3M87.5 583.1V586.4M88.5 583.2V585.7M89.5 584.0V586.6M90.5 584.0V587.1M91.5 584.5V587.1M92.5 584.8V587.5M93.5 585.2V587.9M94.5 584.9V587.6M95.5 585.5V587.7M96.5 585.6V588.0M97.5 585.1V587.3M98.5 584.6V587.1M99.5 584.9V587.3M100.5 584.7V587.3M101.5 584.5V586.9M102.5 583.5V586.7M103.5 583.4V587.4M104.5 583.5V586.6M105.5 582.9V586.4M106.5 582.3V585.7M107.5 581.8V585.3M108.5 582.5V584.9M109.5 581.9V584.6M110.5 581.4V584.7M111.5 580.7V582.7M112.5 581.0V583.6M113.5 578.7V582.3M114.5 576.8V579.9M115.5 576.6V579.1M116.5 576.1V580.1M117.5 575.9V579.6M118.5 574.9V579.1M119.5 574.2V577.3M120.5 571.1V576.2M121.5 574.9V578.7M122.5 573.3V577.2M123.5 573.7V576.5M124.5 572.6V576.6M125.5 571.9V573.9M126.5 572.8V577.2M127.5 571.5V575.8M128.5 573.6V577.1M129.5 573.5V577.8M130.5 575.0V578.7M131.5 577.2V580.6M132.5 576.7V580.5M133.5 578.7V580.4M134.5 578.9V582.2M135.5 581.0V583.2M136.5 581.0V586.4M137.5 583.3V586.2M138.5 584.0V586.6M139.5 584.3V587.5M140.5 586.0V587.8M141.5 586.1V588.3M142.5 587.0V588.7" fill="none" stroke="#000" stroke-width="1.15"/>
<line x1="29.8" y1="550.5" x2="29.8" y2="588.8" stroke="#555" stroke-width="1.00"/>
<line x1="29.8" y1="448.2" x2="29.8" y2="551.0" stroke="#000" stroke-width="1.60"/>
<line x1="30.7" y1="498.0" x2="30.7" y2="551.0" stroke="#000" stroke-width="1.80"/>
<line x1="29.0" y1="588.3" x2="220.3" y2="588.3" stroke="#222" stroke-width="1"/>
<line x1="27.6" y1="588.3" x2="29.8" y2="588.3" stroke="#000" stroke-width="0.8"/>
<line x1="27.6" y1="553.3" x2="29.8" y2="553.3" stroke="#000" stroke-width="0.8"/>
<line x1="27.6" y1="518.2" x2="29.8" y2="518.2" stroke="#000" stroke-width="0.8"/>
<line x1="27.6" y1="483.2" x2="29.8" y2="483.2" stroke="#000" stroke-width="0.8"/>
<line x1="27.6" y1="448.2" x2="29.8" y2="448.2" stroke="#000" stroke-width="0.8"/>
<line x1="29.8" y1="588.3" x2="29.8" y2="589.9" stroke="#222" stroke-width="0.8"/>
<line x1="77.4" y1="588.3" x2="77.4" y2="589.9" stroke="#222" stroke-width="0.8"/>
<line x1="125.0" y1="588.3" x2="125.0" y2="589.9" stroke="#222" stroke-width="0.8"/>
<line x1="172.7" y1="588.3" x2="172.7" y2="589.9" stroke="#222" stroke-width="0.8"/>
<line x1="220.3" y1="588.3" x2="220.3" y2="589.9" stroke="#222" stroke-width="0.8"/>
<g stroke-width="0.25">
<text x="22.00" y="602.40" font-size="10.0">10<tspan dy="-4.5" dx="0.1" font-size="7.4" stroke-width="0.15">0</tspan></text>
<text x="70.20" y="602.40" font-size="10.0">10<tspan dy="-4.5" dx="0.1" font-size="7.4" stroke-width="0.15">1</tspan></text>
<text x="120.00" y="602.40" font-size="10.0">10<tspan dy="-4.5" dx="0.1" font-size="7.4" stroke-width="0.15">2</tspan></text>
<text x="166.10" y="602.40" font-size="10.0">10<tspan dy="-4.5" dx="0.1" font-size="7.4" stroke-width="0.15">3</tspan></text>
<text x="215.40" y="602.40" font-size="10.0">10<tspan dy="-4.5" dx="0.1" font-size="7.4" stroke-width="0.15">4</tspan></text>
<text x="129.26" y="618.00" font-size="10.2" text-anchor="middle" letter-spacing="0.12">DR5-FITC</text>
<text x="23.20" y="588.94" font-size="9.5" text-anchor="middle" transform="rotate(-90 23.20 588.94)" letter-spacing="0.12">0</text>
<text x="23.00" y="519.34" font-size="9.5" text-anchor="middle" transform="rotate(-90 23.00 519.34)" letter-spacing="0.12">100</text>
<text x="23.40" y="448.84" font-size="9.5" text-anchor="middle" transform="rotate(-90 23.40 448.84)" letter-spacing="0.12">200</text>
<text x="11.30" y="519.74" font-size="10.0" text-anchor="middle" transform="rotate(-90 11.30 519.74)" letter-spacing="0.12">Cell number</text>
</g>
<path d="M310.0 198.6 L310.8 167.6 L311.6 162.6 L312.4 158.6 L313.1 155.9 L313.9 153.6 L314.6 154.9 L315.2 151.7 L315.9 150.1 L316.6 147.8 L317.2 150.6 L317.9 146.6 L318.6 145.6 L319.3 144.9 L320.0 144.8 L320.7 145.3 L321.5 147.7 L322.2 145.2 L322.9 144.6 L323.6 146.7 L324.3 145.5 L325.0 149.0 L325.7 144.9 L326.5 146.8 L327.2 147.9 L327.9 146.2 L328.6 148.9 L329.4 146.4 L330.1 145.3 L330.8 146.1 L331.5 144.1 L332.2 145.7 L332.9 144.6 L333.6 147.5 L334.4 147.0 L335.1 145.2 L335.8 142.7 L336.5 143.5 L337.2 143.3 L337.9 143.4 L338.6 143.8 L339.3 147.2 L339.9 144.0 L340.6 143.9 L341.3 148.4 L342.0 147.0 L342.7 149.6 L343.4 147.4 L344.1 150.3 L344.9 149.8 L345.6 151.0 L346.3 151.4 L347.0 150.9 L347.7 149.7 L348.5 154.6 L349.3 161.6 L350.1 165.9 L350.7 167.5 L351.4 167.1 L352.0 169.8 L352.7 171.9 L353.3 173.0 L354.0 175.1 L354.6 175.8 L355.3 177.7 L356.0 179.4 L356.6 179.9 L357.3 183.2 L358.0 184.3 L358.7 183.2 L359.4 186.5 L360.0 187.5 L360.7 187.9 L361.4 187.6 L362.1 190.2 L362.8 189.2 L363.5 191.7 L364.1 191.8 L364.8 191.3 L365.5 192.2 L366.2 193.9 L367.0 194.4 L367.7 195.3 L368.5 196.3 L369.2 195.7 L370.0 196.0 L370.7 197.4 L371.3 195.6 L372.0 197.0 L372.7 195.5 L373.3 196.5 L374.0 196.3 L374.8 196.9 L375.5 196.7 L376.2 197.6 L377.0 196.9 L377.7 197.5 L378.3 196.8 L379.0 197.6 L379.7 197.3 L380.3 196.6 L381.0 196.5 L381.7 195.9 L382.3 196.1 L383.0 197.3 L383.7 197.3 L384.3 198.2 L385.0 197.8 L385.7 197.7 L386.4 197.6 L387.1 198.0 L387.9 197.5 L388.6 196.6 L389.3 197.9 L390.0 197.8 L390.7 196.6 L391.3 197.5 L392.0 197.4 L392.7 197.7 L393.3 197.8 L394.0 197.9 L394.7 198.1 L395.3 198.2 L396.0 198.3 L396.7 198.3 L397.4 198.3 L398.1 198.3 L398.8 198.3 L399.5 198.3 L400.2 198.3 L400.9 198.3 L401.6 198.3 L402.3 198.3 L403.0 198.3 L403.7 198.3 L404.4 198.3 L405.1 198.3 L405.8 198.3 L406.5 198.3 L407.2 198.3 L407.9 198.3 L408.6 198.3 L409.3 198.3 L410.0 198.3 L410.7 198.3 L411.4 198.3 L412.1 198.3 L412.8 198.3 L413.5 198.3 L414.2 198.3 L415.0 198.4 L415.7 198.4 L416.4 198.4 L417.1 198.4 L417.8 198.4 L418.5 198.4 L419.2 198.4 L419.9 198.4 L420.6 198.4 L421.3 198.4 L422.0 198.4 L422.7 198.4 L423.4 198.4 L424.1 198.4 L424.8 198.4 L425.5 198.4 L426.2 198.4 L426.9 198.4 L427.6 198.4 L428.3 198.4 L429.0 198.4 L429.7 198.4 L430.4 198.4 L431.1 198.4 L431.8 198.4 L432.5 198.4 L433.2 198.4 L433.9 198.4 L434.6 198.4 L435.3 198.4 L436.0 198.4 L436.7 198.4 L437.4 198.4 L438.1 198.4 L438.8 198.4 L439.5 198.4 L440.2 198.4 L440.9 198.4 L441.6 198.4 L442.3 198.4 L443.0 198.4 L443.7 198.4 L444.4 198.4 L445.1 198.4 L445.8 198.4 L446.5 198.4 L447.2 198.4 L447.9 198.4 L448.6 198.4 L449.3 198.4 L450.0 198.4 L450.7 198.4 L451.4 198.4 L452.1 198.4 L452.9 198.5 L453.6 198.5 L454.3 198.5 L455.0 198.5 L455.7 198.5 L456.4 198.5 L457.1 198.5 L457.8 198.5 L458.5 198.5 L459.2 198.5 L459.9 198.5 L460.6 198.5 L461.3 198.5 L462.0 198.5 L462.7 198.5 L463.4 198.5 L464.1 198.5 L464.8 198.5 L465.5 198.5 L466.2 198.5 L466.9 198.5 L467.6 198.5 L468.3 198.5 L469.0 198.5 L469.7 198.5 L470.4 198.5 L471.1 198.5 L471.8 198.5 L472.5 198.5 L473.2 198.5 L473.9 198.5 L474.6 198.5 L475.3 198.5 L476.0 198.5 L476.7 198.5 L477.4 198.5 L478.1 198.5 L478.8 198.5 L479.5 198.5 L480.2 198.5 L480.9 198.5 L481.6 198.5 L482.3 198.5 L483.0 198.5 L483.7 198.5 L484.4 198.5 L485.1 198.5 L485.8 198.5 L486.5 198.5 L487.2 198.5 L487.9 198.5 L488.6 198.5 L489.3 198.5 L490.0 198.5 L490.8 198.6 L491.5 198.6 L492.2 198.6 L492.9 198.6 L493.6 198.6 L494.3 198.6 L495.0 198.6 L495.7 198.6 L496.4 198.6 L497.1 198.6 L497.8 198.6 L498.5 198.6 L499.2 198.6 L499.9 198.6 L500.6 198.6 L501.3 198.6 L502.0 198.6 L502.7 198.6 L503.4 198.6 L504.1 198.6 L504.8 198.6 L505.5 198.6 L506.2 198.6 L506.9 198.6 L507.6 198.6 L508.3 198.6 L509.0 198.6 Z" fill="#6a6a6a" stroke="none"/>
<path d="M310.8 167.6 L311.6 162.6 L312.4 158.6 L313.1 155.9 L313.9 153.6 L314.6 154.9 L315.2 151.7 L315.9 150.1 L316.6 147.8 L317.2 150.6 L317.9 146.6 L318.6 145.6 L319.3 144.9 L320.0 144.8 L320.7 145.3 L321.5 147.7 L322.2 145.2 L322.9 144.6 L323.6 146.7 L324.3 145.5 L325.0 149.0 L325.7 144.9 L326.5 146.8 L327.2 147.9 L327.9 146.2 L328.6 148.9 L329.4 146.4 L330.1 145.3 L330.8 146.1 L331.5 144.1 L332.2 145.7 L332.9 144.6 L333.6 147.5 L334.4 147.0 L335.1 145.2 L335.8 142.7 L336.5 143.5 L337.2 143.3 L337.9 143.4 L338.6 143.8 L339.3 147.2 L339.9 144.0 L340.6 143.9 L341.3 148.4 L342.0 147.0 L342.7 149.6 L343.4 147.4 L344.1 150.3 L344.9 149.8 L345.6 151.0 L346.3 151.4 L347.0 150.9 L347.7 149.7 L348.5 154.6 L349.3 161.6 L350.1 165.9 L350.7 167.5 L351.4 167.1 L352.0 169.8 L352.7 171.9 L353.3 173.0 L354.0 175.1 L354.6 175.8 L355.3 177.7 L356.0 179.4 L356.6 179.9 L357.3 183.2 L358.0 184.3 L358.7 183.2 L359.4 186.5 L360.0 187.5 L360.7 187.9 L361.4 187.6 L362.1 190.2 L362.8 189.2 L363.5 191.7 L364.1 191.8 L364.8 191.3 L365.5 192.2 L366.2 193.9 L367.0 194.4 L367.7 195.3 L368.5 196.3 L369.2 195.7 L370.0 196.0 L370.7 197.4 L371.3 195.6 L372.0 197.0 L372.7 195.5 L373.3 196.5 L374.0 196.3 L374.8 196.9 L375.5 196.7 L376.2 197.6 L377.0 196.9 L377.7 197.5 L378.3 196.8 L379.0 197.6 L379.7 197.3 L380.3 196.6 L381.0 196.5 L381.7 195.9 L382.3 196.1 L383.0 197.3 L383.7 197.3 L384.3 198.2 L385.0 197.8 L385.7 197.7 L386.4 197.6 L387.1 198.0 L387.9 197.5 L388.6 196.6 L389.3 197.9 L390.0 197.8 L390.7 196.6 L391.3 197.5 L392.0 197.4 L392.7 197.7 L393.3 197.8 L394.0 197.9 L394.7 198.1 L395.3 198.2 L396.0 198.3 L396.7 198.3 L397.4 198.3 L398.1 198.3 L398.8 198.3 L399.5 198.3 L400.2 198.3 L400.9 198.3 L401.6 198.3 L402.3 198.3 L403.0 198.3 L403.7 198.3 L404.4 198.3 L405.1 198.3 L405.8 198.3 L406.5 198.3 L407.2 198.3 L407.9 198.3 L408.6 198.3 L409.3 198.3 L410.0 198.3 L410.7 198.3 L411.4 198.3 L412.1 198.3 L412.8 198.3 L413.5 198.3 L414.2 198.3 L415.0 198.4 L415.7 198.4 L416.4 198.4 L417.1 198.4 L417.8 198.4 L418.5 198.4 L419.2 198.4 L419.9 198.4 L420.6 198.4 L421.3 198.4 L422.0 198.4 L422.7 198.4 L423.4 198.4 L424.1 198.4 L424.8 198.4 L425.5 198.4 L426.2 198.4 L426.9 198.4 L427.6 198.4 L428.3 198.4 L429.0 198.4 L429.7 198.4 L430.4 198.4 L431.1 198.4 L431.8 198.4 L432.5 198.4 L433.2 198.4 L433.9 198.4 L434.6 198.4 L435.3 198.4 L436.0 198.4 L436.7 198.4 L437.4 198.4 L438.1 198.4 L438.8 198.4 L439.5 198.4 L440.2 198.4 L440.9 198.4 L441.6 198.4 L442.3 198.4 L443.0 198.4 L443.7 198.4 L444.4 198.4 L445.1 198.4 L445.8 198.4 L446.5 198.4 L447.2 198.4 L447.9 198.4 L448.6 198.4 L449.3 198.4 L450.0 198.4 L450.7 198.4 L451.4 198.4 L452.1 198.4 L452.9 198.5 L453.6 198.5 L454.3 198.5 L455.0 198.5 L455.7 198.5 L456.4 198.5 L457.1 198.5 L457.8 198.5 L458.5 198.5 L459.2 198.5 L459.9 198.5 L460.6 198.5 L461.3 198.5 L462.0 198.5 L462.7 198.5 L463.4 198.5 L464.1 198.5 L464.8 198.5 L465.5 198.5 L466.2 198.5 L466.9 198.5 L467.6 198.5 L468.3 198.5 L469.0 198.5 L469.7 198.5 L470.4 198.5 L471.1 198.5 L471.8 198.5 L472.5 198.5 L473.2 198.5 L473.9 198.5 L474.6 198.5 L475.3 198.5 L476.0 198.5 L476.7 198.5 L477.4 198.5 L478.1 198.5 L478.8 198.5 L479.5 198.5 L480.2 198.5 L480.9 198.5 L481.6 198.5 L482.3 198.5 L483.0 198.5 L483.7 198.5 L484.4 198.5 L485.1 198.5 L485.8 198.5 L486.5 198.5 L487.2 198.5 L487.9 198.5 L488.6 198.5 L489.3 198.5 L490.0 198.5 L490.8 198.6 L491.5 198.6 L492.2 198.6 L492.9 198.6 L493.6 198.6 L494.3 198.6 L495.0 198.6 L495.7 198.6 L496.4 198.6 L497.1 198.6 L497.8 198.6 L498.5 198.6 L499.2 198.6 L499.9 198.6 L500.6 198.6 L501.3 198.6 L502.0 198.6 L502.7 198.6 L503.4 198.6 L504.1 198.6 L504.8 198.6 L505.5 198.6 L506.2 198.6 L506.9 198.6 L507.6 198.6 L508.3 198.6 L509.0 198.6" fill="none" stroke="#0a0a0a" stroke-width="0.90" stroke-linejoin="round"/>
<path d="M310.5 139.6V147.4M311.5 147.4V167.9M312.5 155.5V160.3M313.5 150.0V157.8M314.5 146.0V154.8M315.5 143.6V153.7M316.5 146.3V154.1M317.5 140.0V150.0M318.5 140.2V150.5M319.5 141.7V146.5M320.5 140.5V148.6M321.5 136.8V149.8M322.5 138.7V147.5M323.5 131.5V142.5M324.5 130.0V141.9M325.5 136.5V142.5M326.5 136.2V146.1M327.5 131.2V147.0M328.5 139.2V147.8M329.5 128.9V140.2M330.5 125.2V140.3M331.5 126.8V141.0M332.5 130.4V141.7M333.5 123.7V141.4M334.5 126.5V143.3M335.5 128.4V134.3M336.5 123.7V133.6M337.5 124.0V137.0M338.5 123.1V130.9M339.5 117.9V126.2M340.5 123.9V126.6M341.5 114.2V126.4M342.5 107.8V125.0M343.5 110.4V125.9M344.5 113.5V120.1M345.5 111.5V122.7M346.5 111.1V123.2M347.5 111.6V123.2M348.5 105.7V125.5M349.5 115.1V126.5M350.5 118.6V125.8M351.5 115.2V125.5M352.5 114.7V129.0M353.5 127.7V132.0M354.5 123.7V133.7M355.5 123.2V135.6M356.5 126.3V133.2M357.5 124.6V136.1M358.5 122.8V136.0M359.5 130.2V135.9M360.5 134.0V142.7M361.5 130.9V138.0M362.5 137.0V147.4M363.5 143.2V147.5M364.5 146.7V155.4M365.5 150.1V153.7M366.5 152.5V157.5M367.5 156.8V169.8M368.5 162.4V167.5M369.5 163.8V170.2M370.5 168.3V171.5M371.5 168.2V174.5M372.5 172.5V176.9M373.5 167.3V173.4M374.5 170.2V178.4M375.5 177.4V184.2M376.5 174.6V184.4M377.5 173.1V178.3M378.5 176.4V183.0M379.5 174.3V185.7M380.5 179.4V185.9M381.5 185.1V191.3M382.5 181.0V191.4M383.5 182.8V188.5M384.5 182.2V186.0M385.5 180.1V186.3M386.5 179.9V187.2M387.5 180.4V185.7M388.5 182.1V188.1M389.5 185.3V189.4M390.5 185.1V190.9M391.5 183.5V189.3M392.5 187.5V191.7M393.5 187.4V194.4M394.5 192.5V194.3M395.5 189.6V194.0M396.5 188.2V194.7M397.5 190.2V195.0M398.5 187.8V191.3M399.5 189.3V192.0M400.5 189.0V193.5M401.5 188.9V192.8M402.5 189.9V191.9M403.5 190.6V194.9M404.5 193.2V196.4M405.5 192.0V195.4M406.5 192.7V195.5M407.5 193.2V197.4M408.5 192.4V196.7M409.5 192.0V195.9M410.5 193.8V196.6M411.5 192.2V196.6M412.5 192.8V196.6M413.5 191.6V196.2M414.5 193.0V196.1M415.5 194.4V197.7M416.5 194.5V197.9M417.5 196.4V198.9M418.5 194.2V197.6M419.5 196.3V198.5M420.5 194.1V197.8M421.5 195.0V198.6M422.5 195.9V198.8M423.5 195.6V198.3M424.5 195.1V198.0M425.5 196.5V199.0M426.5 196.0V199.0M427.5 195.7V197.3M428.5 195.9V198.1M429.5 196.4V198.5M430.5 196.3V199.0M431.5 197.0V199.0M432.5 196.1V198.3M433.5 196.3V198.5M434.5 196.5V198.7M435.5 195.6V197.9M436.5 195.6V198.6M437.5 196.4V198.7M438.5 196.4V198.7M439.5 195.9V198.8M440.5 196.2V198.7M441.5 196.3V198.8M442.5 196.0V199.0M443.5 196.2V198.9M444.5 196.5V198.9M445.5 196.9V199.0M446.5 197.0V199.0M447.5 196.6V199.0M448.5 197.4V199.0M449.5 197.4V198.7M450.5 197.4V198.7M451.5 197.4V198.7M452.5 197.4V198.8M453.5 197.5V198.8M454.5 197.5V198.8M455.5 197.5V198.8M456.5 197.5V198.9M457.5 197.6V198.9M458.5 197.6V198.9M459.5 197.6V198.9M460.5 197.7V199.0" fill="none" stroke="#000" stroke-width="1.15"/>
<line x1="310.0" y1="165.5" x2="310.0" y2="199.1" stroke="#555" stroke-width="0.80"/>
<line x1="310.0" y1="50.5" x2="310.0" y2="166.0" stroke="#000" stroke-width="1.30"/>
<line x1="310.9" y1="109.0" x2="310.9" y2="166.0" stroke="#000" stroke-width="1.60"/>
<line x1="309.2" y1="198.6" x2="509.2" y2="198.6" stroke="#222" stroke-width="1"/>
<line x1="307.8" y1="198.6" x2="310.0" y2="198.6" stroke="#000" stroke-width="0.8"/>
<line x1="307.8" y1="161.6" x2="310.0" y2="161.6" stroke="#000" stroke-width="0.8"/>
<line x1="307.8" y1="124.5" x2="310.0" y2="124.5" stroke="#000" stroke-width="0.8"/>
<line x1="307.8" y1="87.5" x2="310.0" y2="87.5" stroke="#000" stroke-width="0.8"/>
<line x1="307.8" y1="50.5" x2="310.0" y2="50.5" stroke="#000" stroke-width="0.8"/>
<line x1="310.0" y1="198.6" x2="310.0" y2="200.2" stroke="#222" stroke-width="0.8"/>
<line x1="359.8" y1="198.6" x2="359.8" y2="200.2" stroke="#222" stroke-width="0.8"/>
<line x1="409.6" y1="198.6" x2="409.6" y2="200.2" stroke="#222" stroke-width="0.8"/>
<line x1="459.4" y1="198.6" x2="459.4" y2="200.2" stroke="#222" stroke-width="0.8"/>
<line x1="509.2" y1="198.6" x2="509.2" y2="200.2" stroke="#222" stroke-width="0.8"/>
<g stroke-width="0.45">
<text x="303.37" y="215.10" font-size="10.4">10<tspan dy="-4.5" dx="0.1" font-size="7.4" stroke-width="0.15">0</tspan></text>
<text x="353.47" y="215.10" font-size="10.4">10<tspan dy="-4.5" dx="0.1" font-size="7.4" stroke-width="0.15">1</tspan></text>
<text x="403.77" y="215.10" font-size="10.4">10<tspan dy="-4.5" dx="0.1" font-size="7.4" stroke-width="0.15">2</tspan></text>
<text x="452.97" y="215.10" font-size="10.4">10<tspan dy="-4.5" dx="0.1" font-size="7.4" stroke-width="0.15">3</tspan></text>
<text x="502.57" y="215.10" font-size="10.4">10<tspan dy="-4.5" dx="0.1" font-size="7.4" stroke-width="0.15">4</tspan></text>
<text x="413.80" y="231.70" font-size="11" text-anchor="middle">DR1-FITC</text>
<text x="301.90" y="196.50" font-size="10.4" text-anchor="middle" transform="rotate(-90 301.90 196.50)">0</text>
<text x="302.80" y="125.60" font-size="10.4" text-anchor="middle" transform="rotate(-90 302.80 125.60)">50</text>
<text x="302.20" y="49.90" font-size="10.4" text-anchor="middle" transform="rotate(-90 302.20 49.90)">100</text>
<text x="290.40" y="125.30" font-size="10.7" text-anchor="middle" transform="rotate(-90 290.40 125.30)">Cell number</text>
</g>
<path d="M311.2 393.4 L312.0 365.3 L312.6 360.6 L313.3 351.0 L313.9 341.7 L314.7 331.5 L315.5 320.0 L316.1 317.5 L316.8 316.6 L317.4 320.4 L318.1 322.0 L318.7 312.1 L319.5 311.8 L320.3 322.0 L321.1 318.3 L321.8 316.3 L322.5 313.8 L323.2 316.6 L323.8 318.2 L324.5 313.6 L325.2 312.5 L325.9 307.8 L326.6 316.7 L327.3 307.3 L328.0 312.0 L328.7 315.5 L329.4 307.9 L330.1 314.1 L330.8 316.3 L331.5 313.3 L332.1 315.4 L332.8 308.6 L333.5 312.5 L334.1 309.9 L334.8 317.6 L335.4 311.1 L336.1 312.0 L336.8 317.0 L337.4 314.8 L338.0 312.3 L338.7 311.5 L339.6 317.4 L340.3 321.1 L340.9 320.0 L341.6 319.6 L342.3 322.0 L342.9 321.0 L343.6 324.5 L344.3 331.0 L345.0 331.8 L345.6 329.9 L346.3 329.9 L347.0 329.6 L347.7 328.6 L348.4 330.7 L349.0 335.4 L349.7 336.7 L350.4 333.1 L351.0 337.1 L351.7 337.5 L352.5 340.8 L353.3 344.5 L354.0 346.2 L354.6 344.5 L355.3 347.9 L356.0 346.2 L356.6 348.6 L357.3 351.5 L358.1 357.0 L358.9 361.0 L359.6 365.1 L360.3 364.6 L360.9 365.1 L361.6 363.4 L362.3 366.8 L363.0 366.4 L363.7 369.3 L364.3 369.5 L365.0 372.0 L365.7 372.4 L366.3 374.0 L367.0 373.3 L367.7 375.2 L368.3 376.3 L369.0 377.4 L369.7 376.6 L370.3 379.0 L371.0 379.9 L371.7 379.8 L372.4 381.3 L373.1 381.7 L373.8 380.9 L374.5 381.5 L375.2 381.0 L375.9 383.4 L376.6 384.3 L377.3 383.7 L378.0 384.8 L378.6 385.5 L379.3 386.1 L380.0 385.4 L380.7 387.5 L381.4 387.3 L382.1 387.7 L382.8 387.4 L383.5 388.1 L384.2 388.7 L384.9 388.7 L385.6 389.1 L386.3 387.9 L387.0 388.5 L387.7 389.3 L388.4 389.9 L389.1 389.3 L389.8 390.4 L390.5 390.5 L391.1 389.6 L391.8 390.6 L392.5 390.4 L393.2 390.3 L393.9 390.6 L394.6 391.2 L395.3 391.0 L396.0 391.1 L396.7 390.9 L397.3 391.8 L398.0 391.7 L398.7 392.2 L399.4 392.3 L400.1 391.7 L400.8 393.0 L401.5 391.5 L402.1 392.4 L402.8 392.5 L403.5 392.6 L404.2 392.7 L404.9 392.7 L405.6 392.8 L406.3 392.8 L407.0 392.9 L407.7 392.9 L408.5 393.0 L409.2 393.0 L409.9 393.1 L410.6 393.1 L411.3 393.2 L412.0 393.2 L412.7 393.2 L413.4 393.2 L414.1 393.2 L414.8 393.2 L415.5 393.2 L416.2 393.2 L416.9 393.2 L417.6 393.2 L418.3 393.2 L419.0 393.2 L419.7 393.2 L420.4 393.2 L421.1 393.2 L421.8 393.2 L422.5 393.2 L423.2 393.2 L423.9 393.2 L424.6 393.2 L425.3 393.2 L426.0 393.2 L426.7 393.2 L427.4 393.2 L428.1 393.2 L428.8 393.2 L429.5 393.2 L430.2 393.2 L430.9 393.2 L431.6 393.2 L432.3 393.2 L433.0 393.2 L433.7 393.2 L434.3 393.3 L435.0 393.3 L435.7 393.3 L436.4 393.3 L437.1 393.3 L437.8 393.3 L438.5 393.3 L439.2 393.3 L439.9 393.3 L440.6 393.3 L441.3 393.3 L442.0 393.3 L442.7 393.3 L443.4 393.3 L444.1 393.3 L444.8 393.3 L445.5 393.3 L446.2 393.3 L446.9 393.3 L447.6 393.3 L448.3 393.3 L449.0 393.3 L449.7 393.3 L450.4 393.3 L451.1 393.3 L451.8 393.3 L452.5 393.3 L453.2 393.3 L453.9 393.3 L454.6 393.3 L455.3 393.3 L456.0 393.3 L456.7 393.3 L457.4 393.3 L458.1 393.3 L458.8 393.3 L459.5 393.3 L460.2 393.3 L460.9 393.3 L461.6 393.3 L462.3 393.3 L463.0 393.3 L463.7 393.3 L464.4 393.3 L465.1 393.3 L465.8 393.3 L466.5 393.3 L467.2 393.3 L467.9 393.3 L468.6 393.3 L469.3 393.3 L470.0 393.3 L470.7 393.3 L471.4 393.3 L472.1 393.3 L472.8 393.3 L473.5 393.3 L474.2 393.3 L474.9 393.3 L475.6 393.3 L476.3 393.3 L477.0 393.3 L477.7 393.3 L478.3 393.4 L479.0 393.4 L479.7 393.4 L480.4 393.4 L481.1 393.4 L481.8 393.4 L482.5 393.4 L483.2 393.4 L483.9 393.4 L484.6 393.4 L485.3 393.4 L486.0 393.4 L486.7 393.4 L487.4 393.4 L488.1 393.4 L488.8 393.4 L489.5 393.4 L490.2 393.4 L490.9 393.4 L491.6 393.4 L492.3 393.4 L493.0 393.4 L493.7 393.4 L494.4 393.4 L495.1 393.4 L495.8 393.4 L496.5 393.4 L497.2 393.4 L497.9 393.4 L498.6 393.4 L499.3 393.4 L500.0 393.4 Z" fill="#8d8d8d" stroke="none"/>
<path d="M312.0 365.3 L312.6 360.6 L313.3 351.0 L313.9 341.7 L314.7 331.5 L315.5 320.0 L316.1 317.5 L316.8 316.6 L317.4 320.4 L318.1 322.0 L318.7 312.1 L319.5 311.8 L320.3 322.0 L321.1 318.3 L321.8 316.3 L322.5 313.8 L323.2 316.6 L323.8 318.2 L324.5 313.6 L325.2 312.5 L325.9 307.8 L326.6 316.7 L327.3 307.3 L328.0 312.0 L328.7 315.5 L329.4 307.9 L330.1 314.1 L330.8 316.3 L331.5 313.3 L332.1 315.4 L332.8 308.6 L333.5 312.5 L334.1 309.9 L334.8 317.6 L335.4 311.1 L336.1 312.0 L336.8 317.0 L337.4 314.8 L338.0 312.3 L338.7 311.5 L339.6 317.4 L340.3 321.1 L340.9 320.0 L341.6 319.6 L342.3 322.0 L342.9 321.0 L343.6 324.5 L344.3 331.0 L345.0 331.8 L345.6 329.9 L346.3 329.9 L347.0 329.6 L347.7 328.6 L348.4 330.7 L349.0 335.4 L349.7 336.7 L350.4 333.1 L351.0 337.1 L351.7 337.5 L352.5 340.8 L353.3 344.5 L354.0 346.2 L354.6 344.5 L355.3 347.9 L356.0 346.2 L356.6 348.6 L357.3 351.5 L358.1 357.0 L358.9 361.0 L359.6 365.1 L360.3 364.6 L360.9 365.1 L361.6 363.4 L362.3 366.8 L363.0 366.4 L363.7 369.3 L364.3 369.5 L365.0 372.0 L365.7 372.4 L366.3 374.0 L367.0 373.3 L367.7 375.2 L368.3 376.3 L369.0 377.4 L369.7 376.6 L370.3 379.0 L371.0 379.9 L371.7 379.8 L372.4 381.3 L373.1 381.7 L373.8 380.9 L374.5 381.5 L375.2 381.0 L375.9 383.4 L376.6 384.3 L377.3 383.7 L378.0 384.8 L378.6 385.5 L379.3 386.1 L380.0 385.4 L380.7 387.5 L381.4 387.3 L382.1 387.7 L382.8 387.4 L383.5 388.1 L384.2 388.7 L384.9 388.7 L385.6 389.1 L386.3 387.9 L387.0 388.5 L387.7 389.3 L388.4 389.9 L389.1 389.3 L389.8 390.4 L390.5 390.5 L391.1 389.6 L391.8 390.6 L392.5 390.4 L393.2 390.3 L393.9 390.6 L394.6 391.2 L395.3 391.0 L396.0 391.1 L396.7 390.9 L397.3 391.8 L398.0 391.7 L398.7 392.2 L399.4 392.3 L400.1 391.7 L400.8 393.0 L401.5 391.5 L402.1 392.4 L402.8 392.5 L403.5 392.6 L404.2 392.7 L404.9 392.7 L405.6 392.8 L406.3 392.8 L407.0 392.9 L407.7 392.9 L408.5 393.0 L409.2 393.0 L409.9 393.1 L410.6 393.1 L411.3 393.2 L412.0 393.2 L412.7 393.2 L413.4 393.2 L414.1 393.2 L414.8 393.2 L415.5 393.2 L416.2 393.2 L416.9 393.2 L417.6 393.2 L418.3 393.2 L419.0 393.2 L419.7 393.2 L420.4 393.2 L421.1 393.2 L421.8 393.2 L422.5 393.2 L423.2 393.2 L423.9 393.2 L424.6 393.2 L425.3 393.2 L426.0 393.2 L426.7 393.2 L427.4 393.2 L428.1 393.2 L428.8 393.2 L429.5 393.2 L430.2 393.2 L430.9 393.2 L431.6 393.2 L432.3 393.2 L433.0 393.2 L433.7 393.2 L434.3 393.3 L435.0 393.3 L435.7 393.3 L436.4 393.3 L437.1 393.3 L437.8 393.3 L438.5 393.3 L439.2 393.3 L439.9 393.3 L440.6 393.3 L441.3 393.3 L442.0 393.3 L442.7 393.3 L443.4 393.3 L444.1 393.3 L444.8 393.3 L445.5 393.3 L446.2 393.3 L446.9 393.3 L447.6 393.3 L448.3 393.3 L449.0 393.3 L449.7 393.3 L450.4 393.3 L451.1 393.3 L451.8 393.3 L452.5 393.3 L453.2 393.3 L453.9 393.3 L454.6 393.3 L455.3 393.3 L456.0 393.3 L456.7 393.3 L457.4 393.3 L458.1 393.3 L458.8 393.3 L459.5 393.3 L460.2 393.3 L460.9 393.3 L461.6 393.3 L462.3 393.3 L463.0 393.3 L463.7 393.3 L464.4 393.3 L465.1 393.3 L465.8 393.3 L466.5 393.3 L467.2 393.3 L467.9 393.3 L468.6 393.3 L469.3 393.3 L470.0 393.3 L470.7 393.3 L471.4 393.3 L472.1 393.3 L472.8 393.3 L473.5 393.3 L474.2 393.3 L474.9 393.3 L475.6 393.3 L476.3 393.3 L477.0 393.3 L477.7 393.3 L478.3 393.4 L479.0 393.4 L479.7 393.4 L480.4 393.4 L481.1 393.4 L481.8 393.4 L482.5 393.4 L483.2 393.4 L483.9 393.4 L484.6 393.4 L485.3 393.4 L486.0 393.4 L486.7 393.4 L487.4 393.4 L488.1 393.4 L488.8 393.4 L489.5 393.4 L490.2 393.4 L490.9 393.4 L491.6 393.4 L492.3 393.4 L493.0 393.4 L493.7 393.4 L494.4 393.4 L495.1 393.4 L495.8 393.4 L496.5 393.4 L497.2 393.4 L497.9 393.4 L498.6 393.4 L499.3 393.4 L500.0 393.4" fill="none" stroke="#0a0a0a" stroke-width="0.90" stroke-linejoin="round"/>
<path d="M312.5 339.4V367.8M313.5 353.7V368.9M314.5 350.8V355.2M315.5 349.3V358.5M316.5 344.8V353.6M317.5 352.9V354.9M318.5 348.6V353.5M319.5 347.1V355.6M320.5 343.3V357.1M321.5 344.1V355.1M322.5 349.8V354.2M323.5 345.8V353.1M324.5 347.2V353.0M325.5 341.2V349.7M326.5 349.4V352.8M327.5 340.5V351.1M328.5 343.0V351.7M329.5 337.7V343.1M330.5 340.6V343.6M331.5 343.3V350.7M332.5 341.9V347.4M333.5 336.5V349.5M334.5 335.9V348.5M335.5 342.1V347.6M336.5 345.3V353.3M337.5 342.4V352.5M338.5 344.5V353.0M339.5 347.6V352.4M340.5 346.5V355.3M341.5 344.9V353.2M342.5 344.0V352.9M343.5 343.6V350.1M344.5 347.1V354.9M345.5 345.1V351.6M346.5 346.0V350.5M347.5 343.7V352.2M348.5 343.2V358.1M349.5 346.1V357.8M350.5 341.3V349.8M351.5 346.9V350.7M352.5 342.1V349.5M353.5 349.1V351.6M354.5 350.4V351.9M355.5 341.4V352.4M356.5 340.8V351.6M357.5 344.5V350.2M358.5 345.1V353.1M359.5 343.5V346.3M360.5 345.8V352.9M361.5 340.3V354.4M362.5 339.4V345.7M363.5 345.7V354.4M364.5 341.6V352.6M365.5 343.6V351.1M366.5 343.6V348.9M367.5 348.4V352.6M368.5 350.2V356.8M369.5 343.2V350.4M370.5 341.2V352.6M371.5 340.7V357.1M372.5 342.3V351.9M373.5 341.1V349.8M374.5 341.9V349.9M375.5 342.2V349.7M376.5 344.3V351.5M377.5 347.1V358.6M378.5 351.0V356.3M379.5 350.4V359.1M380.5 349.2V357.3M381.5 353.4V363.3M382.5 349.5V361.9M383.5 356.6V362.5M384.5 360.6V367.0M385.5 358.6V369.4M386.5 361.9V369.0M387.5 357.2V362.5M388.5 362.0V373.2M389.5 363.9V370.5M390.5 359.7V373.3M391.5 360.3V372.8M392.5 363.2V370.7M393.5 365.9V372.5M394.5 367.4V373.8M395.5 367.6V370.9M396.5 367.5V378.8M397.5 365.8V374.9M398.5 367.3V377.6M399.5 368.4V378.2M400.5 368.3V374.9M401.5 371.2V377.2M402.5 370.9V378.3M403.5 375.4V378.3M404.5 373.4V376.0M405.5 374.4V376.8M406.5 375.9V378.9M407.5 376.9V382.4M408.5 375.6V377.7M409.5 377.3V382.9M410.5 380.1V384.2M411.5 381.0V384.4M412.5 382.1V385.7M413.5 382.5V384.5M414.5 383.4V387.7M415.5 384.2V387.9M416.5 385.6V390.2M417.5 387.1V390.8M418.5 387.4V390.6M419.5 387.2V390.5M420.5 386.5V390.8M421.5 387.1V391.7M422.5 389.0V393.4M423.5 388.6V392.3M424.5 390.6V392.2M425.5 390.0V391.9M426.5 390.6V392.2M427.5 390.8V393.1M428.5 392.2V393.5M429.5 390.0V393.0M430.5 390.1V393.6M431.5 391.4V393.1M432.5 391.9V393.8M433.5 391.7V393.8M434.5 392.5V393.7M435.5 392.6V393.5M436.5 392.7V393.7M437.5 392.9V393.7" fill="none" stroke="#000" stroke-width="0.85"/>
<line x1="311.2" y1="362.5" x2="311.2" y2="393.9" stroke="#444" stroke-width="1.00"/>
<line x1="311.2" y1="252.2" x2="311.2" y2="363.0" stroke="#000" stroke-width="1.40"/>
<line x1="312.1" y1="296.5" x2="312.1" y2="363.0" stroke="#000" stroke-width="1.60"/>
<line x1="310.4" y1="393.4" x2="500.3" y2="393.4" stroke="#222" stroke-width="1"/>
<line x1="309.0" y1="393.4" x2="311.2" y2="393.4" stroke="#000" stroke-width="0.8"/>
<line x1="309.0" y1="358.1" x2="311.2" y2="358.1" stroke="#000" stroke-width="0.8"/>
<line x1="309.0" y1="322.8" x2="311.2" y2="322.8" stroke="#000" stroke-width="0.8"/>
<line x1="309.0" y1="287.5" x2="311.2" y2="287.5" stroke="#000" stroke-width="0.8"/>
<line x1="309.0" y1="252.2" x2="311.2" y2="252.2" stroke="#000" stroke-width="0.8"/>
<line x1="311.2" y1="393.4" x2="311.2" y2="395.0" stroke="#222" stroke-width="0.8"/>
<line x1="358.5" y1="393.4" x2="358.5" y2="395.0" stroke="#222" stroke-width="0.8"/>
<line x1="405.8" y1="393.4" x2="405.8" y2="395.0" stroke="#222" stroke-width="0.8"/>
<line x1="453.0" y1="393.4" x2="453.0" y2="395.0" stroke="#222" stroke-width="0.8"/>
<line x1="500.3" y1="393.4" x2="500.3" y2="395.0" stroke="#222" stroke-width="0.8"/>
<g stroke-width="0.25">
<text x="307.20" y="406.80" font-size="10.0">10<tspan dy="-4.5" dx="0.1" font-size="7.4" stroke-width="0.15">0</tspan></text>
<text x="354.20" y="406.80" font-size="10.0">10<tspan dy="-4.5" dx="0.1" font-size="7.4" stroke-width="0.15">1</tspan></text>
<text x="400.90" y="406.80" font-size="10.0">10<tspan dy="-4.5" dx="0.1" font-size="7.4" stroke-width="0.15">2</tspan></text>
<text x="449.20" y="406.80" font-size="10.0">10<tspan dy="-4.5" dx="0.1" font-size="7.4" stroke-width="0.15">3</tspan></text>
<text x="496.40" y="406.80" font-size="10.0">10<tspan dy="-4.5" dx="0.1" font-size="7.4" stroke-width="0.15">4</tspan></text>
<text x="413.86" y="422.50" font-size="10.1" text-anchor="middle" letter-spacing="0.12">DR3-FITC</text>
<text x="305.80" y="393.04" font-size="9.2" text-anchor="middle" transform="rotate(-90 305.80 393.04)" letter-spacing="0.12">0</text>
<text x="305.20" y="324.14" font-size="9.2" text-anchor="middle" transform="rotate(-90 305.20 324.14)" letter-spacing="0.12">50</text>
<text x="306.00" y="251.34" font-size="9.2" text-anchor="middle" transform="rotate(-90 306.00 251.34)" letter-spacing="0.12">100</text>
<text x="294.10" y="323.74" font-size="10.1" text-anchor="middle" transform="rotate(-90 294.10 323.74)" letter-spacing="0.12">Cell number</text>
</g>
<path d="M310.0 588.6 L310.8 566.6 L311.5 555.2 L312.3 549.2 L313.0 536.3 L313.9 528.4 L314.7 521.6 L315.4 514.0 L316.1 510.6 L316.9 509.7 L317.6 512.4 L318.3 510.7 L319.0 510.3 L319.6 512.9 L320.3 518.2 L321.0 510.6 L321.6 511.1 L322.3 514.8 L323.0 511.1 L323.6 506.6 L324.3 507.7 L325.0 507.6 L325.7 503.9 L326.4 506.1 L327.1 505.2 L327.9 510.3 L328.6 505.0 L329.3 508.4 L330.0 511.5 L330.7 511.5 L331.3 506.2 L332.0 509.1 L332.7 506.6 L333.3 507.9 L334.0 509.4 L334.8 511.7 L335.5 512.4 L336.3 504.8 L336.9 498.1 L337.6 507.5 L338.3 505.5 L338.9 507.4 L339.6 516.9 L340.3 511.8 L340.9 518.9 L341.6 516.9 L342.3 523.6 L342.9 524.1 L343.6 518.3 L344.3 520.6 L345.0 528.2 L345.6 526.4 L346.3 525.8 L347.0 529.9 L347.7 531.2 L348.3 528.9 L349.0 529.0 L349.6 526.4 L350.3 528.8 L350.9 527.5 L351.7 536.0 L352.5 540.6 L353.2 537.9 L353.9 541.7 L354.6 538.5 L355.2 539.1 L355.9 543.2 L356.6 542.4 L357.3 545.7 L358.1 559.1 L358.8 560.0 L359.4 557.7 L360.1 561.6 L360.7 558.5 L361.4 561.5 L362.1 564.2 L362.8 565.5 L363.5 566.7 L364.1 566.2 L364.8 568.5 L365.5 570.2 L366.2 569.2 L366.9 572.6 L367.6 573.1 L368.3 572.0 L368.9 573.7 L369.6 573.2 L370.3 573.2 L371.0 575.2 L371.7 573.7 L372.4 576.5 L373.1 577.5 L373.8 576.0 L374.5 578.4 L375.2 576.5 L375.9 579.2 L376.6 578.2 L377.3 580.6 L378.0 579.8 L378.6 581.6 L379.3 580.0 L380.0 580.7 L380.7 583.0 L381.4 582.9 L382.1 583.0 L382.8 582.2 L383.5 582.9 L384.2 583.6 L384.9 583.3 L385.6 585.6 L386.3 585.4 L387.0 586.1 L387.7 585.8 L388.4 585.2 L389.1 584.9 L389.8 586.3 L390.5 585.3 L391.1 586.3 L391.8 586.3 L392.5 586.6 L393.2 586.0 L393.9 586.2 L394.6 587.1 L395.3 586.3 L396.0 587.3 L396.7 586.7 L397.3 587.0 L398.0 586.8 L398.7 587.6 L399.4 587.4 L400.1 587.6 L400.8 587.7 L401.5 587.7 L402.1 587.8 L402.8 587.9 L403.5 587.9 L404.2 588.0 L404.9 588.0 L405.6 588.1 L406.3 588.1 L407.0 588.1 L407.7 588.2 L408.5 588.2 L409.2 588.3 L409.9 588.3 L410.6 588.3 L411.3 588.4 L412.0 588.4 L412.7 588.4 L413.4 588.4 L414.1 588.4 L414.8 588.4 L415.5 588.4 L416.2 588.4 L416.9 588.4 L417.6 588.4 L418.3 588.4 L419.0 588.4 L419.7 588.4 L420.4 588.4 L421.1 588.4 L421.8 588.4 L422.5 588.4 L423.2 588.4 L423.9 588.4 L424.6 588.4 L425.3 588.4 L426.0 588.4 L426.7 588.4 L427.4 588.4 L428.1 588.4 L428.8 588.4 L429.5 588.4 L430.2 588.4 L430.9 588.4 L431.6 588.4 L432.3 588.4 L433.0 588.4 L433.8 588.5 L434.5 588.5 L435.2 588.5 L435.9 588.5 L436.6 588.5 L437.3 588.5 L438.0 588.5 L438.7 588.5 L439.4 588.5 L440.1 588.5 L440.8 588.5 L441.5 588.5 L442.2 588.5 L442.9 588.5 L443.6 588.5 L444.3 588.5 L445.0 588.5 L445.7 588.5 L446.4 588.5 L447.1 588.5 L447.8 588.5 L448.5 588.5 L449.2 588.5 L449.9 588.5 L450.6 588.5 L451.3 588.5 L452.0 588.5 L452.7 588.5 L453.4 588.5 L454.1 588.5 L454.8 588.5 L455.5 588.5 L456.2 588.5 L456.9 588.5 L457.6 588.5 L458.3 588.5 L459.0 588.5 L459.7 588.5 L460.4 588.5 L461.1 588.5 L461.8 588.5 L462.5 588.5 L463.2 588.5 L463.9 588.5 L464.6 588.5 L465.3 588.5 L466.0 588.5 L466.7 588.5 L467.4 588.5 L468.1 588.5 L468.8 588.5 L469.5 588.5 L470.2 588.5 L470.9 588.5 L471.6 588.5 L472.3 588.5 L473.0 588.5 L473.7 588.5 L474.4 588.5 L475.1 588.5 L475.8 588.5 L476.5 588.5 L477.2 588.5 L478.0 588.6 L478.7 588.6 L479.4 588.6 L480.1 588.6 L480.8 588.6 L481.5 588.6 L482.2 588.6 L482.9 588.6 L483.6 588.6 L484.3 588.6 L485.0 588.6 L485.7 588.6 L486.4 588.6 L487.1 588.6 L487.8 588.6 L488.5 588.6 L489.2 588.6 L489.9 588.6 L490.6 588.6 L491.3 588.6 L492.0 588.6 L492.7 588.6 L493.4 588.6 L494.1 588.6 L494.8 588.6 L495.5 588.6 L496.2 588.6 L496.9 588.6 L497.6 588.6 L498.3 588.6 L499.0 588.6 Z" fill="#8d8d8d" stroke="none"/>
<path d="M310.8 566.6 L311.5 555.2 L312.3 549.2 L313.0 536.3 L313.9 528.4 L314.7 521.6 L315.4 514.0 L316.1 510.6 L316.9 509.7 L317.6 512.4 L318.3 510.7 L319.0 510.3 L319.6 512.9 L320.3 518.2 L321.0 510.6 L321.6 511.1 L322.3 514.8 L323.0 511.1 L323.6 506.6 L324.3 507.7 L325.0 507.6 L325.7 503.9 L326.4 506.1 L327.1 505.2 L327.9 510.3 L328.6 505.0 L329.3 508.4 L330.0 511.5 L330.7 511.5 L331.3 506.2 L332.0 509.1 L332.7 506.6 L333.3 507.9 L334.0 509.4 L334.8 511.7 L335.5 512.4 L336.3 504.8 L336.9 498.1 L337.6 507.5 L338.3 505.5 L338.9 507.4 L339.6 516.9 L340.3 511.8 L340.9 518.9 L341.6 516.9 L342.3 523.6 L342.9 524.1 L343.6 518.3 L344.3 520.6 L345.0 528.2 L345.6 526.4 L346.3 525.8 L347.0 529.9 L347.7 531.2 L348.3 528.9 L349.0 529.0 L349.6 526.4 L350.3 528.8 L350.9 527.5 L351.7 536.0 L352.5 540.6 L353.2 537.9 L353.9 541.7 L354.6 538.5 L355.2 539.1 L355.9 543.2 L356.6 542.4 L357.3 545.7 L358.1 559.1 L358.8 560.0 L359.4 557.7 L360.1 561.6 L360.7 558.5 L361.4 561.5 L362.1 564.2 L362.8 565.5 L363.5 566.7 L364.1 566.2 L364.8 568.5 L365.5 570.2 L366.2 569.2 L366.9 572.6 L367.6 573.1 L368.3 572.0 L368.9 573.7 L369.6 573.2 L370.3 573.2 L371.0 575.2 L371.7 573.7 L372.4 576.5 L373.1 577.5 L373.8 576.0 L374.5 578.4 L375.2 576.5 L375.9 579.2 L376.6 578.2 L377.3 580.6 L378.0 579.8 L378.6 581.6 L379.3 580.0 L380.0 580.7 L380.7 583.0 L381.4 582.9 L382.1 583.0 L382.8 582.2 L383.5 582.9 L384.2 583.6 L384.9 583.3 L385.6 585.6 L386.3 585.4 L387.0 586.1 L387.7 585.8 L388.4 585.2 L389.1 584.9 L389.8 586.3 L390.5 585.3 L391.1 586.3 L391.8 586.3 L392.5 586.6 L393.2 586.0 L393.9 586.2 L394.6 587.1 L395.3 586.3 L396.0 587.3 L396.7 586.7 L397.3 587.0 L398.0 586.8 L398.7 587.6 L399.4 587.4 L400.1 587.6 L400.8 587.7 L401.5 587.7 L402.1 587.8 L402.8 587.9 L403.5 587.9 L404.2 588.0 L404.9 588.0 L405.6 588.1 L406.3 588.1 L407.0 588.1 L407.7 588.2 L408.5 588.2 L409.2 588.3 L409.9 588.3 L410.6 588.3 L411.3 588.4 L412.0 588.4 L412.7 588.4 L413.4 588.4 L414.1 588.4 L414.8 588.4 L415.5 588.4 L416.2 588.4 L416.9 588.4 L417.6 588.4 L418.3 588.4 L419.0 588.4 L419.7 588.4 L420.4 588.4 L421.1 588.4 L421.8 588.4 L422.5 588.4 L423.2 588.4 L423.9 588.4 L424.6 588.4 L425.3 588.4 L426.0 588.4 L426.7 588.4 L427.4 588.4 L428.1 588.4 L428.8 588.4 L429.5 588.4 L430.2 588.4 L430.9 588.4 L431.6 588.4 L432.3 588.4 L433.0 588.4 L433.8 588.5 L434.5 588.5 L435.2 588.5 L435.9 588.5 L436.6 588.5 L437.3 588.5 L438.0 588.5 L438.7 588.5 L439.4 588.5 L440.1 588.5 L440.8 588.5 L441.5 588.5 L442.2 588.5 L442.9 588.5 L443.6 588.5 L444.3 588.5 L445.0 588.5 L445.7 588.5 L446.4 588.5 L447.1 588.5 L447.8 588.5 L448.5 588.5 L449.2 588.5 L449.9 588.5 L450.6 588.5 L451.3 588.5 L452.0 588.5 L452.7 588.5 L453.4 588.5 L454.1 588.5 L454.8 588.5 L455.5 588.5 L456.2 588.5 L456.9 588.5 L457.6 588.5 L458.3 588.5 L459.0 588.5 L459.7 588.5 L460.4 588.5 L461.1 588.5 L461.8 588.5 L462.5 588.5 L463.2 588.5 L463.9 588.5 L464.6 588.5 L465.3 588.5 L466.0 588.5 L466.7 588.5 L467.4 588.5 L468.1 588.5 L468.8 588.5 L469.5 588.5 L470.2 588.5 L470.9 588.5 L471.6 588.5 L472.3 588.5 L473.0 588.5 L473.7 588.5 L474.4 588.5 L475.1 588.5 L475.8 588.5 L476.5 588.5 L477.2 588.5 L478.0 588.6 L478.7 588.6 L479.4 588.6 L480.1 588.6 L480.8 588.6 L481.5 588.6 L482.2 588.6 L482.9 588.6 L483.6 588.6 L484.3 588.6 L485.0 588.6 L485.7 588.6 L486.4 588.6 L487.1 588.6 L487.8 588.6 L488.5 588.6 L489.2 588.6 L489.9 588.6 L490.6 588.6 L491.3 588.6 L492.0 588.6 L492.7 588.6 L493.4 588.6 L494.1 588.6 L494.8 588.6 L495.5 588.6 L496.2 588.6 L496.9 588.6 L497.6 588.6 L498.3 588.6 L499.0 588.6" fill="none" stroke="#0a0a0a" stroke-width="0.90" stroke-linejoin="round"/>
<path d="M310.5 556.2V560.1M311.5 560.0V567.8M312.5 559.0V565.9M313.5 551.0V563.8M314.5 552.6V562.8M315.5 549.2V557.9M316.5 552.8V556.0M317.5 553.4V556.1M318.5 541.9V553.6M319.5 543.7V547.3M320.5 543.8V549.6M321.5 540.9V550.4M322.5 544.6V552.8M323.5 542.0V547.0M324.5 544.4V557.5M325.5 544.8V550.9M326.5 543.1V551.3M327.5 544.6V550.5M328.5 538.3V545.9M329.5 539.8V548.6M330.5 539.4V547.2M331.5 541.6V547.2M332.5 546.7V552.2M333.5 544.4V552.1M334.5 538.5V544.6M335.5 538.5V551.2M336.5 549.6V552.1M337.5 549.2V551.8M338.5 544.0V550.4M339.5 543.5V550.4M340.5 543.6V550.7M341.5 546.6V553.7M342.5 544.8V552.0M343.5 545.1V550.7M344.5 546.7V552.2M345.5 546.5V553.4M346.5 547.8V552.0M347.5 551.4V553.0M348.5 547.7V552.6M349.5 544.2V555.8M350.5 544.3V548.9M351.5 548.4V552.0M352.5 537.5V552.0M353.5 540.2V547.9M354.5 533.3V542.4M355.5 537.5V545.7M356.5 537.1V551.4M357.5 537.6V547.5M358.5 539.1V546.1M359.5 538.0V544.0M360.5 537.6V542.9M361.5 538.8V547.8M362.5 536.1V546.9M363.5 537.0V546.0M364.5 540.8V548.2M365.5 534.6V548.8M366.5 533.9V544.0M367.5 537.5V547.1M368.5 543.3V550.3M369.5 535.5V543.6M370.5 536.2V543.4M371.5 534.2V545.8M372.5 533.7V541.6M373.5 528.3V538.5M374.5 535.8V543.6M375.5 535.0V543.6M376.5 530.0V535.5M377.5 533.9V544.4M378.5 533.5V542.0M379.5 529.2V545.1M380.5 530.2V549.1M381.5 536.4V544.4M382.5 539.2V546.8M383.5 538.8V552.2M384.5 542.3V552.5M385.5 552.4V559.5M386.5 543.8V559.6M387.5 547.8V558.5M388.5 550.7V556.0M389.5 555.5V559.7M390.5 553.8V559.8M391.5 555.4V560.3M392.5 556.7V562.1M393.5 561.6V564.0M394.5 563.1V570.6M395.5 557.1V567.0M396.5 561.6V569.1M397.5 563.8V570.2M398.5 563.6V571.3M399.5 565.7V570.1M400.5 566.4V572.3M401.5 567.3V574.1M402.5 566.9V568.5M403.5 567.8V572.9M404.5 570.5V574.7M405.5 569.0V571.1M406.5 568.9V577.7M407.5 575.6V578.1M408.5 575.2V578.1M409.5 577.5V582.1M410.5 578.0V581.5M411.5 579.2V581.7M412.5 579.3V583.7M413.5 578.2V585.2M414.5 579.8V584.2M415.5 580.9V583.7M416.5 583.1V587.6M417.5 584.5V586.7M418.5 583.9V587.2M419.5 584.1V587.6M420.5 585.5V588.2M421.5 587.5V589.0M422.5 586.4V588.7M423.5 585.8V588.0M424.5 586.5V588.9M425.5 586.6V588.9M426.5 586.8V588.4M427.5 587.4V588.5M428.5 587.7V588.6M429.5 587.8V588.6M430.5 587.8V588.7M431.5 587.9V588.8M432.5 588.0V588.9M433.5 588.1V588.9" fill="none" stroke="#000" stroke-width="0.85"/>
<line x1="310.0" y1="566.5" x2="310.0" y2="589.1" stroke="#555" stroke-width="0.80"/>
<line x1="310.0" y1="448.2" x2="310.0" y2="567.0" stroke="#000" stroke-width="1.40"/>
<line x1="310.9" y1="494.0" x2="310.9" y2="567.0" stroke="#000" stroke-width="1.60"/>
<line x1="309.2" y1="588.6" x2="499.2" y2="588.6" stroke="#222" stroke-width="1"/>
<line x1="307.8" y1="588.6" x2="310.0" y2="588.6" stroke="#000" stroke-width="0.8"/>
<line x1="307.8" y1="553.5" x2="310.0" y2="553.5" stroke="#000" stroke-width="0.8"/>
<line x1="307.8" y1="518.4" x2="310.0" y2="518.4" stroke="#000" stroke-width="0.8"/>
<line x1="307.8" y1="483.3" x2="310.0" y2="483.3" stroke="#000" stroke-width="0.8"/>
<line x1="307.8" y1="448.2" x2="310.0" y2="448.2" stroke="#000" stroke-width="0.8"/>
<line x1="310.0" y1="588.6" x2="310.0" y2="590.2" stroke="#222" stroke-width="0.8"/>
<line x1="357.3" y1="588.6" x2="357.3" y2="590.2" stroke="#222" stroke-width="0.8"/>
<line x1="404.6" y1="588.6" x2="404.6" y2="590.2" stroke="#222" stroke-width="0.8"/>
<line x1="451.9" y1="588.6" x2="451.9" y2="590.2" stroke="#222" stroke-width="0.8"/>
<line x1="499.2" y1="588.6" x2="499.2" y2="590.2" stroke="#222" stroke-width="0.8"/>
<g stroke-width="0.25">
<text x="306.90" y="602.40" font-size="10.0">10<tspan dy="-4.5" dx="0.1" font-size="7.4" stroke-width="0.15">0</tspan></text>
<text x="354.20" y="602.40" font-size="10.0">10<tspan dy="-4.5" dx="0.1" font-size="7.4" stroke-width="0.15">1</tspan></text>
<text x="402.20" y="602.40" font-size="10.0">10<tspan dy="-4.5" dx="0.1" font-size="7.4" stroke-width="0.15">2</tspan></text>
<text x="449.20" y="602.40" font-size="10.0">10<tspan dy="-4.5" dx="0.1" font-size="7.4" stroke-width="0.15">3</tspan></text>
<text x="496.40" y="602.40" font-size="10.0">10<tspan dy="-4.5" dx="0.1" font-size="7.4" stroke-width="0.15">4</tspan></text>
<text x="410.86" y="617.00" font-size="10.1" text-anchor="middle" letter-spacing="0.12">DR5-FITC</text>
<text x="305.50" y="589.04" font-size="9.2" text-anchor="middle" transform="rotate(-90 305.50 589.04)" letter-spacing="0.12">0</text>
<text x="305.20" y="519.34" font-size="9.2" text-anchor="middle" transform="rotate(-90 305.20 519.34)" letter-spacing="0.12">50</text>
<text x="306.00" y="447.24" font-size="9.2" text-anchor="middle" transform="rotate(-90 306.00 447.24)" letter-spacing="0.12">100</text>
<text x="294.10" y="519.84" font-size="10.1" text-anchor="middle" transform="rotate(-90 294.10 519.84)" letter-spacing="0.12">Cell number</text>
</g>
</svg>
</body>
</html>
